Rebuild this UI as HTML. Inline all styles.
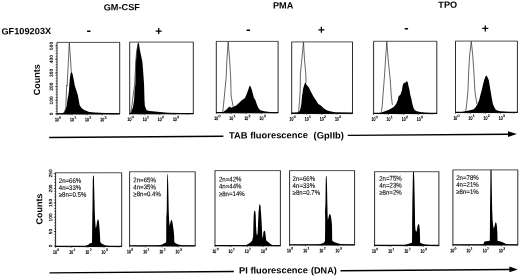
<!DOCTYPE html>
<html><head><meta charset="utf-8"><style>
html,body{margin:0;padding:0;background:#fff;}
body{width:520px;height:276px;overflow:hidden;}
svg{display:block;filter:grayscale(1);font-family:"Liberation Sans", sans-serif;transform:rotate(-0.41deg);transform-origin:260.0px 138.0px;}
</style></head><body>
<svg width="520" height="276" viewBox="0 0 520 276">
<rect x="-10" y="-10" width="540" height="296" fill="#fff"/>
<text x="104.62" y="9.28" font-size="9" font-weight="bold" textLength="36.3" lengthAdjust="spacingAndGlyphs">GM-CSF</text>
<text x="273.83" y="8.7" font-size="9" font-weight="bold" textLength="20.4" lengthAdjust="spacingAndGlyphs">PMA</text>
<text x="439.23" y="9.18" font-size="9" font-weight="bold" textLength="18.9" lengthAdjust="spacingAndGlyphs">TPO</text>
<text x="2.15" y="32.55" font-size="9" font-weight="bold" textLength="49.8" lengthAdjust="spacingAndGlyphs">GF109203X</text>
<line x1="87.87" y1="30.07" x2="91.27" y2="30.09" stroke="#000" stroke-width="1.4"/>
<line x1="247.37" y1="30.21" x2="250.77" y2="30.23" stroke="#000" stroke-width="1.4"/>
<line x1="405.48" y1="29.84" x2="408.88" y2="29.86" stroke="#000" stroke-width="1.4"/>
<line x1="156.47" y1="30.36" x2="162.47" y2="30.4" stroke="#000" stroke-width="1.3"/>
<line x1="159.49" y1="27.38" x2="159.45" y2="33.38" stroke="#000" stroke-width="1.3"/>
<line x1="319.17" y1="30.22" x2="325.17" y2="30.26" stroke="#000" stroke-width="1.3"/>
<line x1="322.19" y1="27.24" x2="322.15" y2="33.24" stroke="#000" stroke-width="1.3"/>
<line x1="483.08" y1="29.99" x2="489.08" y2="30.04" stroke="#000" stroke-width="1.3"/>
<line x1="486.1" y1="27.02" x2="486.06" y2="33.01" stroke="#000" stroke-width="1.3"/>
<text x="40.31" y="93.63" font-size="9" font-weight="bold" textLength="31.0" lengthAdjust="spacingAndGlyphs" transform="rotate(-90 40.31 93.63)">Counts</text>
<text x="41.79" y="222.94" font-size="9" font-weight="bold" textLength="31.0" lengthAdjust="spacingAndGlyphs" transform="rotate(-90 41.79 222.94)">Counts</text>
<polygon points="57.18,112.05 62.18,111.78 64.19,111 65.61,108.61 66.93,104.62 67.68,98.62 68.71,93.63 69.35,88.63 69.68,83.64 70.33,76.64 71.07,72.15 71.48,70.85 72.38,70.86 73.06,72.66 74.22,78.67 75.28,84.68 76.55,88.69 78.11,93.7 78.98,98.7 79.84,103.71 81.72,106.72 84.4,108.74 89.39,110.78 95.19,111.32 105.18,111.79 119.88,112.2 119.87,113.05 57.18,112.6" fill="#000" stroke="none" stroke-width="0"/>
<polyline points="63.68,112.29 64.79,110.1 66.02,106.61 67.08,83.62 67.48,84.62 68.84,61.63 69.99,41.34 71.34,61.65 71.73,70.65" fill="none" stroke="#333" stroke-width="0.75" stroke-linejoin="round"/>
<line x1="57.49" y1="40.95" x2="120.59" y2="41.4" stroke="#333" stroke-width="0.85"/>
<line x1="57.69" y1="40.95" x2="57.18" y2="112.6" stroke="#222" stroke-width="0.95"/>
<line x1="120.39" y1="41.4" x2="119.87" y2="113.05" stroke="#222" stroke-width="0.95"/>
<line x1="56.88" y1="112.45" x2="120.18" y2="112.9" stroke="#000" stroke-width="1.3"/>
<text x="58.93" y="119.81" font-size="5.0" textLength="3.9" lengthAdjust="spacingAndGlyphs" text-anchor="end" stroke="#000" stroke-width="0.25">10</text>
<text x="59.24" y="117.21" font-size="3.6" stroke="#000" stroke-width="0.2">0</text>
<line x1="57.18" y1="112.6" x2="57.17" y2="114" stroke="#222" stroke-width="0.6"/>
<line x1="61.72" y1="112.63" x2="61.72" y2="113.53" stroke="#444" stroke-width="0.5"/>
<line x1="64.38" y1="112.65" x2="64.37" y2="113.55" stroke="#444" stroke-width="0.5"/>
<line x1="66.27" y1="112.66" x2="66.26" y2="113.56" stroke="#444" stroke-width="0.5"/>
<line x1="67.73" y1="112.67" x2="67.72" y2="113.57" stroke="#444" stroke-width="0.5"/>
<line x1="68.93" y1="112.68" x2="68.92" y2="113.58" stroke="#444" stroke-width="0.5"/>
<line x1="69.94" y1="112.69" x2="69.93" y2="113.59" stroke="#444" stroke-width="0.5"/>
<line x1="70.81" y1="112.7" x2="70.81" y2="113.6" stroke="#444" stroke-width="0.5"/>
<line x1="71.59" y1="112.7" x2="71.58" y2="113.6" stroke="#444" stroke-width="0.5"/>
<text x="74.02" y="119.92" font-size="5.0" textLength="3.9" lengthAdjust="spacingAndGlyphs" text-anchor="end" stroke="#000" stroke-width="0.25">10</text>
<text x="74.34" y="117.32" font-size="3.6" stroke="#000" stroke-width="0.2">1</text>
<line x1="72.28" y1="112.71" x2="72.27" y2="114.11" stroke="#222" stroke-width="0.6"/>
<line x1="76.82" y1="112.74" x2="76.82" y2="113.64" stroke="#444" stroke-width="0.5"/>
<line x1="79.48" y1="112.76" x2="79.47" y2="113.66" stroke="#444" stroke-width="0.5"/>
<line x1="81.37" y1="112.77" x2="81.36" y2="113.67" stroke="#444" stroke-width="0.5"/>
<line x1="82.83" y1="112.78" x2="82.82" y2="113.68" stroke="#444" stroke-width="0.5"/>
<line x1="84.03" y1="112.79" x2="84.02" y2="113.69" stroke="#444" stroke-width="0.5"/>
<line x1="85.04" y1="112.8" x2="85.03" y2="113.7" stroke="#444" stroke-width="0.5"/>
<line x1="85.91" y1="112.8" x2="85.91" y2="113.7" stroke="#444" stroke-width="0.5"/>
<line x1="86.68" y1="112.81" x2="86.68" y2="113.71" stroke="#444" stroke-width="0.5"/>
<text x="89.12" y="120.03" font-size="5.0" textLength="3.9" lengthAdjust="spacingAndGlyphs" text-anchor="end" stroke="#000" stroke-width="0.25">10</text>
<text x="89.44" y="117.43" font-size="3.6" stroke="#000" stroke-width="0.2">2</text>
<line x1="87.38" y1="112.81" x2="87.37" y2="114.21" stroke="#222" stroke-width="0.6"/>
<line x1="91.92" y1="112.85" x2="91.91" y2="113.75" stroke="#444" stroke-width="0.5"/>
<line x1="94.58" y1="112.87" x2="94.57" y2="113.77" stroke="#444" stroke-width="0.5"/>
<line x1="96.47" y1="112.88" x2="96.46" y2="113.78" stroke="#444" stroke-width="0.5"/>
<line x1="97.93" y1="112.89" x2="97.92" y2="113.79" stroke="#444" stroke-width="0.5"/>
<line x1="99.13" y1="112.9" x2="99.12" y2="113.8" stroke="#444" stroke-width="0.5"/>
<line x1="100.14" y1="112.91" x2="100.13" y2="113.81" stroke="#444" stroke-width="0.5"/>
<line x1="101.01" y1="112.91" x2="101.01" y2="113.81" stroke="#444" stroke-width="0.5"/>
<line x1="101.78" y1="112.92" x2="101.78" y2="113.82" stroke="#444" stroke-width="0.5"/>
<text x="104.22" y="120.13" font-size="5.0" textLength="3.9" lengthAdjust="spacingAndGlyphs" text-anchor="end" stroke="#000" stroke-width="0.25">10</text>
<text x="104.54" y="117.54" font-size="3.6" stroke="#000" stroke-width="0.2">3</text>
<line x1="102.48" y1="112.92" x2="102.47" y2="114.32" stroke="#222" stroke-width="0.6"/>
<line x1="107.02" y1="112.95" x2="107.01" y2="113.85" stroke="#444" stroke-width="0.5"/>
<line x1="109.68" y1="112.97" x2="109.67" y2="113.87" stroke="#444" stroke-width="0.5"/>
<line x1="111.57" y1="112.99" x2="111.56" y2="113.89" stroke="#444" stroke-width="0.5"/>
<line x1="113.03" y1="113" x2="113.02" y2="113.9" stroke="#444" stroke-width="0.5"/>
<line x1="114.23" y1="113.01" x2="114.22" y2="113.91" stroke="#444" stroke-width="0.5"/>
<line x1="115.24" y1="113.01" x2="115.23" y2="113.91" stroke="#444" stroke-width="0.5"/>
<line x1="116.11" y1="113.02" x2="116.11" y2="113.92" stroke="#444" stroke-width="0.5"/>
<line x1="116.88" y1="113.03" x2="116.88" y2="113.93" stroke="#444" stroke-width="0.5"/>
<polygon points="129.88,112.45 131.18,112.03 131.8,109.26 133.02,107.14 133.54,104.09 134.38,99.1 134.95,89.1 135.68,84.11 136.3,61.11 136.78,57.12 137.43,49.12 138.48,43.13 139.09,41.73 139.68,43.14 140.53,49.14 142.18,57.15 142.95,61.16 143.68,71.17 144.48,84.17 144.77,99.17 145.13,105.18 145.97,107.23 146.8,109.37 150.2,110.14 160.19,111.28 168.18,112.08 193.48,112.8 193.48,113.22 129.88,112.77" fill="#000" stroke="none" stroke-width="0"/>
<polyline points="130.48,112.67 131.19,110.32 132.24,104.08 133.51,94.09 134.98,84.1 136.46,59.11 137.22,51.12 138.99,41.53" fill="none" stroke="#333" stroke-width="0.75" stroke-linejoin="round"/>
<line x1="130.19" y1="41.17" x2="194.19" y2="41.63" stroke="#333" stroke-width="0.85"/>
<line x1="130.39" y1="41.17" x2="129.88" y2="112.77" stroke="#222" stroke-width="0.95"/>
<line x1="193.99" y1="41.63" x2="193.48" y2="113.22" stroke="#222" stroke-width="0.95"/>
<line x1="129.58" y1="112.62" x2="193.78" y2="113.08" stroke="#000" stroke-width="1.3"/>
<text x="131.63" y="119.98" font-size="5.0" textLength="3.9" lengthAdjust="spacingAndGlyphs" text-anchor="end" stroke="#000" stroke-width="0.25">10</text>
<text x="131.94" y="117.38" font-size="3.6" stroke="#000" stroke-width="0.2">0</text>
<line x1="129.88" y1="112.77" x2="129.87" y2="114.17" stroke="#222" stroke-width="0.6"/>
<line x1="134.42" y1="112.8" x2="134.42" y2="113.7" stroke="#444" stroke-width="0.5"/>
<line x1="137.08" y1="112.82" x2="137.08" y2="113.72" stroke="#444" stroke-width="0.5"/>
<line x1="138.97" y1="112.83" x2="138.96" y2="113.73" stroke="#444" stroke-width="0.5"/>
<line x1="140.43" y1="112.84" x2="140.42" y2="113.74" stroke="#444" stroke-width="0.5"/>
<line x1="141.63" y1="112.85" x2="141.62" y2="113.75" stroke="#444" stroke-width="0.5"/>
<line x1="142.64" y1="112.86" x2="142.63" y2="113.76" stroke="#444" stroke-width="0.5"/>
<line x1="143.51" y1="112.87" x2="143.51" y2="113.77" stroke="#444" stroke-width="0.5"/>
<line x1="144.29" y1="112.87" x2="144.28" y2="113.77" stroke="#444" stroke-width="0.5"/>
<text x="146.73" y="120.09" font-size="5.0" textLength="3.9" lengthAdjust="spacingAndGlyphs" text-anchor="end" stroke="#000" stroke-width="0.25">10</text>
<text x="147.04" y="117.49" font-size="3.6" stroke="#000" stroke-width="0.2">1</text>
<line x1="144.98" y1="112.88" x2="144.97" y2="114.28" stroke="#222" stroke-width="0.6"/>
<line x1="149.52" y1="112.91" x2="149.52" y2="113.81" stroke="#444" stroke-width="0.5"/>
<line x1="152.18" y1="112.93" x2="152.17" y2="113.83" stroke="#444" stroke-width="0.5"/>
<line x1="154.07" y1="112.94" x2="154.06" y2="113.84" stroke="#444" stroke-width="0.5"/>
<line x1="155.53" y1="112.95" x2="155.52" y2="113.85" stroke="#444" stroke-width="0.5"/>
<line x1="156.73" y1="112.96" x2="156.72" y2="113.86" stroke="#444" stroke-width="0.5"/>
<line x1="157.74" y1="112.97" x2="157.73" y2="113.87" stroke="#444" stroke-width="0.5"/>
<line x1="158.61" y1="112.97" x2="158.61" y2="113.87" stroke="#444" stroke-width="0.5"/>
<line x1="159.39" y1="112.98" x2="159.38" y2="113.88" stroke="#444" stroke-width="0.5"/>
<text x="161.82" y="120.2" font-size="5.0" textLength="3.9" lengthAdjust="spacingAndGlyphs" text-anchor="end" stroke="#000" stroke-width="0.25">10</text>
<text x="162.14" y="117.6" font-size="3.6" stroke="#000" stroke-width="0.2">2</text>
<line x1="160.08" y1="112.98" x2="160.07" y2="114.38" stroke="#222" stroke-width="0.6"/>
<line x1="164.62" y1="113.02" x2="164.62" y2="113.92" stroke="#444" stroke-width="0.5"/>
<line x1="167.28" y1="113.04" x2="167.27" y2="113.94" stroke="#444" stroke-width="0.5"/>
<line x1="169.17" y1="113.05" x2="169.16" y2="113.95" stroke="#444" stroke-width="0.5"/>
<line x1="170.63" y1="113.06" x2="170.62" y2="113.96" stroke="#444" stroke-width="0.5"/>
<line x1="171.83" y1="113.07" x2="171.82" y2="113.97" stroke="#444" stroke-width="0.5"/>
<line x1="172.84" y1="113.08" x2="172.83" y2="113.98" stroke="#444" stroke-width="0.5"/>
<line x1="173.71" y1="113.08" x2="173.71" y2="113.98" stroke="#444" stroke-width="0.5"/>
<line x1="174.49" y1="113.09" x2="174.48" y2="113.99" stroke="#444" stroke-width="0.5"/>
<text x="176.92" y="120.31" font-size="5.0" textLength="3.9" lengthAdjust="spacingAndGlyphs" text-anchor="end" stroke="#000" stroke-width="0.25">10</text>
<text x="177.24" y="117.71" font-size="3.6" stroke="#000" stroke-width="0.2">3</text>
<line x1="175.18" y1="113.09" x2="175.17" y2="114.49" stroke="#222" stroke-width="0.6"/>
<line x1="179.72" y1="113.12" x2="179.72" y2="114.02" stroke="#444" stroke-width="0.5"/>
<line x1="182.38" y1="113.14" x2="182.37" y2="114.04" stroke="#444" stroke-width="0.5"/>
<line x1="184.27" y1="113.16" x2="184.26" y2="114.06" stroke="#444" stroke-width="0.5"/>
<line x1="185.73" y1="113.17" x2="185.72" y2="114.07" stroke="#444" stroke-width="0.5"/>
<line x1="186.93" y1="113.18" x2="186.92" y2="114.08" stroke="#444" stroke-width="0.5"/>
<line x1="187.94" y1="113.18" x2="187.93" y2="114.08" stroke="#444" stroke-width="0.5"/>
<line x1="188.81" y1="113.19" x2="188.81" y2="114.09" stroke="#444" stroke-width="0.5"/>
<line x1="189.58" y1="113.2" x2="189.58" y2="114.1" stroke="#444" stroke-width="0.5"/>
<polygon points="216.48,112.07 222.19,112 223.39,111.69 226.7,109.26 229.63,106.19 231.32,107.59 233.82,106.65 236.74,105.03 239.25,102.95 241.77,100.47 243.48,99.18 245.08,98.19 246.4,95.4 248.54,89.92 249.67,86.42 250.17,85.63 250.97,86.43 252.24,89.94 253.51,94.95 254.29,97.96 255.67,99.97 256.94,103.98 258.51,108.1 260.6,110.25 264.39,111.34 270.19,112.13 278.28,112.51 278.28,112.83 216.48,112.39" fill="#000" stroke="none" stroke-width="0"/>
<polyline points="222.48,112.32 222.94,111.9 224.7,95.75 226.53,77.76 227.46,59.77 228.89,41.47 230.16,59.78 231.13,77.79 231.4,95.79 233.42,106.64" fill="none" stroke="#333" stroke-width="0.75" stroke-linejoin="round"/>
<line x1="216.79" y1="41.09" x2="278.99" y2="41.53" stroke="#333" stroke-width="0.85"/>
<line x1="216.99" y1="41.09" x2="216.48" y2="112.39" stroke="#222" stroke-width="0.95"/>
<line x1="278.79" y1="41.53" x2="278.28" y2="112.83" stroke="#222" stroke-width="0.95"/>
<line x1="216.18" y1="112.24" x2="278.58" y2="112.68" stroke="#000" stroke-width="1.3"/>
<text x="218.23" y="119.6" font-size="5.0" textLength="3.9" lengthAdjust="spacingAndGlyphs" text-anchor="end" stroke="#000" stroke-width="0.25">10</text>
<text x="218.55" y="117" font-size="3.6" stroke="#000" stroke-width="0.2">0</text>
<line x1="216.48" y1="112.39" x2="216.47" y2="113.79" stroke="#222" stroke-width="0.6"/>
<line x1="221.03" y1="112.42" x2="221.02" y2="113.32" stroke="#444" stroke-width="0.5"/>
<line x1="223.69" y1="112.44" x2="223.68" y2="113.34" stroke="#444" stroke-width="0.5"/>
<line x1="225.57" y1="112.45" x2="225.57" y2="113.35" stroke="#444" stroke-width="0.5"/>
<line x1="227.04" y1="112.46" x2="227.03" y2="113.36" stroke="#444" stroke-width="0.5"/>
<line x1="228.23" y1="112.47" x2="228.23" y2="113.37" stroke="#444" stroke-width="0.5"/>
<line x1="229.24" y1="112.48" x2="229.24" y2="113.38" stroke="#444" stroke-width="0.5"/>
<line x1="230.12" y1="112.49" x2="230.11" y2="113.39" stroke="#444" stroke-width="0.5"/>
<line x1="230.89" y1="112.49" x2="230.88" y2="113.39" stroke="#444" stroke-width="0.5"/>
<text x="233.33" y="119.71" font-size="5.0" textLength="3.9" lengthAdjust="spacingAndGlyphs" text-anchor="end" stroke="#000" stroke-width="0.25">10</text>
<text x="233.65" y="117.11" font-size="3.6" stroke="#000" stroke-width="0.2">1</text>
<line x1="231.58" y1="112.5" x2="231.57" y2="113.9" stroke="#222" stroke-width="0.6"/>
<line x1="236.13" y1="112.53" x2="236.12" y2="113.43" stroke="#444" stroke-width="0.5"/>
<line x1="238.79" y1="112.55" x2="238.78" y2="113.45" stroke="#444" stroke-width="0.5"/>
<line x1="240.67" y1="112.56" x2="240.67" y2="113.46" stroke="#444" stroke-width="0.5"/>
<line x1="242.14" y1="112.57" x2="242.13" y2="113.47" stroke="#444" stroke-width="0.5"/>
<line x1="243.33" y1="112.58" x2="243.33" y2="113.48" stroke="#444" stroke-width="0.5"/>
<line x1="244.34" y1="112.59" x2="244.34" y2="113.49" stroke="#444" stroke-width="0.5"/>
<line x1="245.22" y1="112.59" x2="245.21" y2="113.49" stroke="#444" stroke-width="0.5"/>
<line x1="245.99" y1="112.6" x2="245.98" y2="113.5" stroke="#444" stroke-width="0.5"/>
<text x="248.43" y="119.82" font-size="5.0" textLength="3.9" lengthAdjust="spacingAndGlyphs" text-anchor="end" stroke="#000" stroke-width="0.25">10</text>
<text x="248.75" y="117.22" font-size="3.6" stroke="#000" stroke-width="0.2">2</text>
<line x1="246.68" y1="112.6" x2="246.67" y2="114" stroke="#222" stroke-width="0.6"/>
<line x1="251.23" y1="112.64" x2="251.22" y2="113.54" stroke="#444" stroke-width="0.5"/>
<line x1="253.89" y1="112.66" x2="253.88" y2="113.56" stroke="#444" stroke-width="0.5"/>
<line x1="255.77" y1="112.67" x2="255.77" y2="113.57" stroke="#444" stroke-width="0.5"/>
<line x1="257.24" y1="112.68" x2="257.23" y2="113.58" stroke="#444" stroke-width="0.5"/>
<line x1="258.43" y1="112.69" x2="258.42" y2="113.59" stroke="#444" stroke-width="0.5"/>
<line x1="259.44" y1="112.7" x2="259.44" y2="113.6" stroke="#444" stroke-width="0.5"/>
<line x1="260.32" y1="112.7" x2="260.31" y2="113.6" stroke="#444" stroke-width="0.5"/>
<line x1="261.09" y1="112.71" x2="261.08" y2="113.61" stroke="#444" stroke-width="0.5"/>
<text x="263.53" y="119.92" font-size="5.0" textLength="3.9" lengthAdjust="spacingAndGlyphs" text-anchor="end" stroke="#000" stroke-width="0.25">10</text>
<text x="263.85" y="117.33" font-size="3.6" stroke="#000" stroke-width="0.2">3</text>
<line x1="261.78" y1="112.71" x2="261.77" y2="114.11" stroke="#222" stroke-width="0.6"/>
<line x1="266.33" y1="112.74" x2="266.32" y2="113.64" stroke="#444" stroke-width="0.5"/>
<line x1="268.99" y1="112.76" x2="268.98" y2="113.66" stroke="#444" stroke-width="0.5"/>
<line x1="270.87" y1="112.78" x2="270.87" y2="113.68" stroke="#444" stroke-width="0.5"/>
<line x1="272.34" y1="112.79" x2="272.33" y2="113.69" stroke="#444" stroke-width="0.5"/>
<line x1="273.53" y1="112.8" x2="273.52" y2="113.7" stroke="#444" stroke-width="0.5"/>
<line x1="274.54" y1="112.8" x2="274.54" y2="113.7" stroke="#444" stroke-width="0.5"/>
<line x1="275.42" y1="112.81" x2="275.41" y2="113.71" stroke="#444" stroke-width="0.5"/>
<line x1="276.19" y1="112.82" x2="276.18" y2="113.72" stroke="#444" stroke-width="0.5"/>
<polygon points="291.88,113.31 297.18,113.13 299.19,111.97 300.2,110.49 301.02,107.29 301.54,104.3 301.97,100.3 302.41,95.3 302.81,94.31 303.24,90.31 303.66,88.31 304.58,85.32 305.39,83.12 305.8,82.63 306.29,83.33 307.08,85.34 309.56,88.35 310.34,90.36 312.41,94.37 314.04,97.39 316.07,100.4 318.54,104.42 321.03,105.94 323.51,108.52 326.9,110.68 330.19,111.77 336.18,113.09 352.68,113.74 352.67,114.06 291.88,113.63" fill="#000" stroke="none" stroke-width="0"/>
<polyline points="298.38,113.57 298.95,110.48 299.87,100.28 300.54,90.29 300.86,74.29 302.31,60.3 304.18,42.51 305.06,60.32 306.26,74.33 306.4,82.83" fill="none" stroke="#333" stroke-width="0.75" stroke-linejoin="round"/>
<line x1="292.19" y1="42.13" x2="353.39" y2="42.57" stroke="#333" stroke-width="0.85"/>
<line x1="292.39" y1="42.13" x2="291.88" y2="113.63" stroke="#222" stroke-width="0.95"/>
<line x1="353.19" y1="42.56" x2="352.67" y2="114.06" stroke="#222" stroke-width="0.95"/>
<line x1="291.58" y1="113.48" x2="352.97" y2="113.91" stroke="#000" stroke-width="1.3"/>
<text x="293.62" y="120.84" font-size="5.0" textLength="3.9" lengthAdjust="spacingAndGlyphs" text-anchor="end" stroke="#000" stroke-width="0.25">10</text>
<text x="293.94" y="118.24" font-size="3.6" stroke="#000" stroke-width="0.2">0</text>
<line x1="291.88" y1="113.63" x2="291.87" y2="115.03" stroke="#222" stroke-width="0.6"/>
<line x1="296.42" y1="113.66" x2="296.41" y2="114.56" stroke="#444" stroke-width="0.5"/>
<line x1="299.08" y1="113.68" x2="299.07" y2="114.58" stroke="#444" stroke-width="0.5"/>
<line x1="300.97" y1="113.69" x2="300.96" y2="114.59" stroke="#444" stroke-width="0.5"/>
<line x1="302.43" y1="113.7" x2="302.42" y2="114.6" stroke="#444" stroke-width="0.5"/>
<line x1="303.63" y1="113.71" x2="303.62" y2="114.61" stroke="#444" stroke-width="0.5"/>
<line x1="304.64" y1="113.72" x2="304.63" y2="114.62" stroke="#444" stroke-width="0.5"/>
<line x1="305.51" y1="113.73" x2="305.51" y2="114.63" stroke="#444" stroke-width="0.5"/>
<line x1="306.28" y1="113.73" x2="306.28" y2="114.63" stroke="#444" stroke-width="0.5"/>
<text x="308.72" y="120.95" font-size="5.0" textLength="3.9" lengthAdjust="spacingAndGlyphs" text-anchor="end" stroke="#000" stroke-width="0.25">10</text>
<text x="309.04" y="118.35" font-size="3.6" stroke="#000" stroke-width="0.2">1</text>
<line x1="306.97" y1="113.74" x2="306.96" y2="115.14" stroke="#222" stroke-width="0.6"/>
<line x1="311.52" y1="113.77" x2="311.51" y2="114.67" stroke="#444" stroke-width="0.5"/>
<line x1="314.18" y1="113.79" x2="314.17" y2="114.69" stroke="#444" stroke-width="0.5"/>
<line x1="316.07" y1="113.8" x2="316.06" y2="114.7" stroke="#444" stroke-width="0.5"/>
<line x1="317.53" y1="113.81" x2="317.52" y2="114.71" stroke="#444" stroke-width="0.5"/>
<line x1="318.72" y1="113.82" x2="318.72" y2="114.72" stroke="#444" stroke-width="0.5"/>
<line x1="319.74" y1="113.83" x2="319.73" y2="114.73" stroke="#444" stroke-width="0.5"/>
<line x1="320.61" y1="113.83" x2="320.6" y2="114.73" stroke="#444" stroke-width="0.5"/>
<line x1="321.38" y1="113.84" x2="321.38" y2="114.74" stroke="#444" stroke-width="0.5"/>
<text x="323.82" y="121.06" font-size="5.0" textLength="3.9" lengthAdjust="spacingAndGlyphs" text-anchor="end" stroke="#000" stroke-width="0.25">10</text>
<text x="324.14" y="118.46" font-size="3.6" stroke="#000" stroke-width="0.2">2</text>
<line x1="322.07" y1="113.84" x2="322.06" y2="115.24" stroke="#222" stroke-width="0.6"/>
<line x1="326.62" y1="113.88" x2="326.61" y2="114.78" stroke="#444" stroke-width="0.5"/>
<line x1="329.28" y1="113.9" x2="329.27" y2="114.8" stroke="#444" stroke-width="0.5"/>
<line x1="331.17" y1="113.91" x2="331.16" y2="114.81" stroke="#444" stroke-width="0.5"/>
<line x1="332.63" y1="113.92" x2="332.62" y2="114.82" stroke="#444" stroke-width="0.5"/>
<line x1="333.82" y1="113.93" x2="333.82" y2="114.83" stroke="#444" stroke-width="0.5"/>
<line x1="334.84" y1="113.93" x2="334.83" y2="114.83" stroke="#444" stroke-width="0.5"/>
<line x1="335.71" y1="113.94" x2="335.7" y2="114.84" stroke="#444" stroke-width="0.5"/>
<line x1="336.48" y1="113.95" x2="336.48" y2="114.85" stroke="#444" stroke-width="0.5"/>
<text x="338.92" y="121.16" font-size="5.0" textLength="3.9" lengthAdjust="spacingAndGlyphs" text-anchor="end" stroke="#000" stroke-width="0.25">10</text>
<text x="339.24" y="118.57" font-size="3.6" stroke="#000" stroke-width="0.2">3</text>
<line x1="337.17" y1="113.95" x2="337.16" y2="115.35" stroke="#222" stroke-width="0.6"/>
<line x1="341.72" y1="113.98" x2="341.71" y2="114.88" stroke="#444" stroke-width="0.5"/>
<line x1="344.38" y1="114" x2="344.37" y2="114.9" stroke="#444" stroke-width="0.5"/>
<line x1="346.26" y1="114.02" x2="346.26" y2="114.92" stroke="#444" stroke-width="0.5"/>
<line x1="347.73" y1="114.03" x2="347.72" y2="114.93" stroke="#444" stroke-width="0.5"/>
<line x1="348.92" y1="114.04" x2="348.92" y2="114.94" stroke="#444" stroke-width="0.5"/>
<line x1="349.93" y1="114.04" x2="349.93" y2="114.94" stroke="#444" stroke-width="0.5"/>
<line x1="350.81" y1="114.05" x2="350.8" y2="114.95" stroke="#444" stroke-width="0.5"/>
<line x1="351.58" y1="114.05" x2="351.58" y2="114.95" stroke="#444" stroke-width="0.5"/>
<polygon points="373.77,114.07 380.18,113.89 382.18,113 386.39,111.67 389.7,110.45 393.92,107.98 396.44,104.98 398.07,100.99 399,96.99 400.6,96.01 402.34,91.02 403.18,86.02 404.09,84.13 405.89,83.54 407.4,82.05 408.39,84.06 408.63,86.06 409.84,91.07 410.6,96.08 411.68,100.08 411.87,101.09 412.64,105.09 413.47,108.12 414.3,110.4 416.19,112 420.18,113.05 426.18,113.88 436.97,114.53 436.97,114.87 373.77,114.41" fill="#000" stroke="none" stroke-width="0"/>
<polyline points="380.97,114.24 381.59,112.43 382.53,105.88 383.3,95.88 384.18,85.89 384.94,76.89 386.05,60.9 387.49,42.51 388.75,60.92 390.34,76.93 390.98,85.94 391.5,95.94 392.63,105.95" fill="none" stroke="#333" stroke-width="0.75" stroke-linejoin="round"/>
<line x1="374.09" y1="42.11" x2="437.69" y2="42.57" stroke="#333" stroke-width="0.85"/>
<line x1="374.29" y1="42.12" x2="373.77" y2="114.41" stroke="#222" stroke-width="0.95"/>
<line x1="437.49" y1="42.57" x2="436.97" y2="114.87" stroke="#222" stroke-width="0.95"/>
<line x1="373.47" y1="114.26" x2="437.27" y2="114.72" stroke="#000" stroke-width="1.3"/>
<text x="375.52" y="121.63" font-size="5.0" textLength="3.9" lengthAdjust="spacingAndGlyphs" text-anchor="end" stroke="#000" stroke-width="0.25">10</text>
<text x="375.84" y="119.03" font-size="3.6" stroke="#000" stroke-width="0.2">0</text>
<line x1="373.77" y1="114.41" x2="373.76" y2="115.81" stroke="#222" stroke-width="0.6"/>
<line x1="378.32" y1="114.45" x2="378.31" y2="115.35" stroke="#444" stroke-width="0.5"/>
<line x1="380.98" y1="114.47" x2="380.97" y2="115.37" stroke="#444" stroke-width="0.5"/>
<line x1="382.86" y1="114.48" x2="382.86" y2="115.38" stroke="#444" stroke-width="0.5"/>
<line x1="384.33" y1="114.49" x2="384.32" y2="115.39" stroke="#444" stroke-width="0.5"/>
<line x1="385.52" y1="114.5" x2="385.52" y2="115.4" stroke="#444" stroke-width="0.5"/>
<line x1="386.53" y1="114.5" x2="386.53" y2="115.4" stroke="#444" stroke-width="0.5"/>
<line x1="387.41" y1="114.51" x2="387.4" y2="115.41" stroke="#444" stroke-width="0.5"/>
<line x1="388.18" y1="114.52" x2="388.17" y2="115.42" stroke="#444" stroke-width="0.5"/>
<text x="390.62" y="121.73" font-size="5.0" textLength="3.9" lengthAdjust="spacingAndGlyphs" text-anchor="end" stroke="#000" stroke-width="0.25">10</text>
<text x="390.94" y="119.14" font-size="3.6" stroke="#000" stroke-width="0.2">1</text>
<line x1="388.87" y1="114.52" x2="388.86" y2="115.92" stroke="#222" stroke-width="0.6"/>
<line x1="393.42" y1="114.55" x2="393.41" y2="115.45" stroke="#444" stroke-width="0.5"/>
<line x1="396.08" y1="114.57" x2="396.07" y2="115.47" stroke="#444" stroke-width="0.5"/>
<line x1="397.96" y1="114.59" x2="397.96" y2="115.49" stroke="#444" stroke-width="0.5"/>
<line x1="399.43" y1="114.6" x2="399.42" y2="115.5" stroke="#444" stroke-width="0.5"/>
<line x1="400.62" y1="114.61" x2="400.61" y2="115.51" stroke="#444" stroke-width="0.5"/>
<line x1="401.63" y1="114.61" x2="401.63" y2="115.51" stroke="#444" stroke-width="0.5"/>
<line x1="402.51" y1="114.62" x2="402.5" y2="115.52" stroke="#444" stroke-width="0.5"/>
<line x1="403.28" y1="114.62" x2="403.27" y2="115.52" stroke="#444" stroke-width="0.5"/>
<text x="405.72" y="121.84" font-size="5.0" textLength="3.9" lengthAdjust="spacingAndGlyphs" text-anchor="end" stroke="#000" stroke-width="0.25">10</text>
<text x="406.04" y="119.24" font-size="3.6" stroke="#000" stroke-width="0.2">2</text>
<line x1="403.97" y1="114.63" x2="403.96" y2="116.03" stroke="#222" stroke-width="0.6"/>
<line x1="408.52" y1="114.66" x2="408.51" y2="115.56" stroke="#444" stroke-width="0.5"/>
<line x1="411.18" y1="114.68" x2="411.17" y2="115.58" stroke="#444" stroke-width="0.5"/>
<line x1="413.06" y1="114.69" x2="413.06" y2="115.59" stroke="#444" stroke-width="0.5"/>
<line x1="414.53" y1="114.71" x2="414.52" y2="115.61" stroke="#444" stroke-width="0.5"/>
<line x1="415.72" y1="114.71" x2="415.71" y2="115.61" stroke="#444" stroke-width="0.5"/>
<line x1="416.73" y1="114.72" x2="416.73" y2="115.62" stroke="#444" stroke-width="0.5"/>
<line x1="417.61" y1="114.73" x2="417.6" y2="115.63" stroke="#444" stroke-width="0.5"/>
<line x1="418.38" y1="114.73" x2="418.37" y2="115.63" stroke="#444" stroke-width="0.5"/>
<text x="420.82" y="121.95" font-size="5.0" textLength="3.9" lengthAdjust="spacingAndGlyphs" text-anchor="end" stroke="#000" stroke-width="0.25">10</text>
<text x="421.14" y="119.35" font-size="3.6" stroke="#000" stroke-width="0.2">3</text>
<line x1="419.07" y1="114.74" x2="419.06" y2="116.14" stroke="#222" stroke-width="0.6"/>
<line x1="423.62" y1="114.77" x2="423.61" y2="115.67" stroke="#444" stroke-width="0.5"/>
<line x1="426.27" y1="114.79" x2="426.27" y2="115.69" stroke="#444" stroke-width="0.5"/>
<line x1="428.16" y1="114.8" x2="428.15" y2="115.7" stroke="#444" stroke-width="0.5"/>
<line x1="429.62" y1="114.81" x2="429.62" y2="115.71" stroke="#444" stroke-width="0.5"/>
<line x1="430.82" y1="114.82" x2="430.81" y2="115.72" stroke="#444" stroke-width="0.5"/>
<line x1="431.83" y1="114.83" x2="431.82" y2="115.73" stroke="#444" stroke-width="0.5"/>
<line x1="432.71" y1="114.84" x2="432.7" y2="115.74" stroke="#444" stroke-width="0.5"/>
<line x1="433.48" y1="114.84" x2="433.47" y2="115.74" stroke="#444" stroke-width="0.5"/>
<polygon points="455.68,113.58 462.18,113.42 465.19,112.81 470.19,111.69 473.95,110.67 476.02,108.59 477.74,105.56 479.47,101.57 480.7,96.58 481.57,93.58 482.14,91.59 483.27,86.6 484.61,81.61 485.93,78.12 486.69,77.02 487.63,78.13 489.16,81.64 489.97,86.64 490.74,91.65 491.12,93.65 491.55,96.66 492.37,101.66 493.14,105.67 494.42,108.72 495.6,110.83 496.89,111.88 500.19,112.96 506.18,113.63 517.58,114.03 517.58,114.34 455.68,113.9" fill="#000" stroke="none" stroke-width="0"/>
<polyline points="465.18,113.76 465.69,112.71 466.46,109.57 468.22,93.49 469.23,71.5 470.29,56.5 471.99,42.91 473.29,56.52 474.23,71.53 475.32,93.54 476.52,101.55 477.24,105.55" fill="none" stroke="#333" stroke-width="0.75" stroke-linejoin="round"/>
<line x1="455.99" y1="42.5" x2="518.29" y2="42.95" stroke="#333" stroke-width="0.85"/>
<line x1="456.19" y1="42.5" x2="455.68" y2="113.9" stroke="#222" stroke-width="0.95"/>
<line x1="518.09" y1="42.94" x2="517.58" y2="114.34" stroke="#222" stroke-width="0.95"/>
<line x1="455.38" y1="113.75" x2="517.88" y2="114.19" stroke="#000" stroke-width="1.3"/>
<text x="457.43" y="121.11" font-size="5.0" textLength="3.9" lengthAdjust="spacingAndGlyphs" text-anchor="end" stroke="#000" stroke-width="0.25">10</text>
<text x="457.74" y="118.51" font-size="3.6" stroke="#000" stroke-width="0.2">0</text>
<line x1="455.68" y1="113.9" x2="455.67" y2="115.3" stroke="#222" stroke-width="0.6"/>
<line x1="460.22" y1="113.93" x2="460.22" y2="114.83" stroke="#444" stroke-width="0.5"/>
<line x1="462.88" y1="113.95" x2="462.88" y2="114.85" stroke="#444" stroke-width="0.5"/>
<line x1="464.77" y1="113.96" x2="464.76" y2="114.86" stroke="#444" stroke-width="0.5"/>
<line x1="466.23" y1="113.98" x2="466.23" y2="114.88" stroke="#444" stroke-width="0.5"/>
<line x1="467.43" y1="113.98" x2="467.42" y2="114.88" stroke="#444" stroke-width="0.5"/>
<line x1="468.44" y1="113.99" x2="468.43" y2="114.89" stroke="#444" stroke-width="0.5"/>
<line x1="469.31" y1="114" x2="469.31" y2="114.9" stroke="#444" stroke-width="0.5"/>
<line x1="470.09" y1="114" x2="470.08" y2="114.9" stroke="#444" stroke-width="0.5"/>
<text x="472.53" y="121.22" font-size="5.0" textLength="3.9" lengthAdjust="spacingAndGlyphs" text-anchor="end" stroke="#000" stroke-width="0.25">10</text>
<text x="472.84" y="118.62" font-size="3.6" stroke="#000" stroke-width="0.2">1</text>
<line x1="470.78" y1="114.01" x2="470.77" y2="115.41" stroke="#222" stroke-width="0.6"/>
<line x1="475.32" y1="114.04" x2="475.32" y2="114.94" stroke="#444" stroke-width="0.5"/>
<line x1="477.98" y1="114.06" x2="477.97" y2="114.96" stroke="#444" stroke-width="0.5"/>
<line x1="479.87" y1="114.07" x2="479.86" y2="114.97" stroke="#444" stroke-width="0.5"/>
<line x1="481.33" y1="114.08" x2="481.32" y2="114.98" stroke="#444" stroke-width="0.5"/>
<line x1="482.53" y1="114.09" x2="482.52" y2="114.99" stroke="#444" stroke-width="0.5"/>
<line x1="483.54" y1="114.1" x2="483.53" y2="115" stroke="#444" stroke-width="0.5"/>
<line x1="484.41" y1="114.11" x2="484.41" y2="115.01" stroke="#444" stroke-width="0.5"/>
<line x1="485.19" y1="114.11" x2="485.18" y2="115.01" stroke="#444" stroke-width="0.5"/>
<text x="487.63" y="121.33" font-size="5.0" textLength="3.9" lengthAdjust="spacingAndGlyphs" text-anchor="end" stroke="#000" stroke-width="0.25">10</text>
<text x="487.94" y="118.73" font-size="3.6" stroke="#000" stroke-width="0.2">2</text>
<line x1="485.88" y1="114.12" x2="485.87" y2="115.52" stroke="#222" stroke-width="0.6"/>
<line x1="490.42" y1="114.15" x2="490.42" y2="115.05" stroke="#444" stroke-width="0.5"/>
<line x1="493.08" y1="114.17" x2="493.07" y2="115.07" stroke="#444" stroke-width="0.5"/>
<line x1="494.97" y1="114.18" x2="494.96" y2="115.08" stroke="#444" stroke-width="0.5"/>
<line x1="496.43" y1="114.19" x2="496.42" y2="115.09" stroke="#444" stroke-width="0.5"/>
<line x1="497.63" y1="114.2" x2="497.62" y2="115.1" stroke="#444" stroke-width="0.5"/>
<line x1="498.64" y1="114.21" x2="498.63" y2="115.11" stroke="#444" stroke-width="0.5"/>
<line x1="499.51" y1="114.21" x2="499.51" y2="115.11" stroke="#444" stroke-width="0.5"/>
<line x1="500.29" y1="114.22" x2="500.28" y2="115.12" stroke="#444" stroke-width="0.5"/>
<text x="502.72" y="121.44" font-size="5.0" textLength="3.9" lengthAdjust="spacingAndGlyphs" text-anchor="end" stroke="#000" stroke-width="0.25">10</text>
<text x="503.04" y="118.84" font-size="3.6" stroke="#000" stroke-width="0.2">3</text>
<line x1="500.98" y1="114.22" x2="500.97" y2="115.62" stroke="#222" stroke-width="0.6"/>
<line x1="505.52" y1="114.26" x2="505.52" y2="115.16" stroke="#444" stroke-width="0.5"/>
<line x1="508.18" y1="114.28" x2="508.17" y2="115.18" stroke="#444" stroke-width="0.5"/>
<line x1="510.07" y1="114.29" x2="510.06" y2="115.19" stroke="#444" stroke-width="0.5"/>
<line x1="511.53" y1="114.3" x2="511.52" y2="115.2" stroke="#444" stroke-width="0.5"/>
<line x1="512.73" y1="114.31" x2="512.72" y2="115.21" stroke="#444" stroke-width="0.5"/>
<line x1="513.74" y1="114.32" x2="513.73" y2="115.22" stroke="#444" stroke-width="0.5"/>
<line x1="514.61" y1="114.32" x2="514.61" y2="115.22" stroke="#444" stroke-width="0.5"/>
<line x1="515.39" y1="114.33" x2="515.38" y2="115.23" stroke="#444" stroke-width="0.5"/>
<text x="53.18" y="112.42" font-size="4.9" font-weight="bold" text-anchor="middle" transform="rotate(-90 53.18 112.42)">0</text>
<line x1="55.38" y1="112.44" x2="57.18" y2="112.45" stroke="#222" stroke-width="0.6"/>
<text x="53.28" y="98.82" font-size="4.9" font-weight="bold" text-anchor="middle" transform="rotate(-90 53.28 98.82)">100</text>
<line x1="55.48" y1="98.84" x2="57.27" y2="98.85" stroke="#222" stroke-width="0.6"/>
<text x="53.37" y="85.12" font-size="4.9" font-weight="bold" text-anchor="middle" transform="rotate(-90 53.37 85.12)">200</text>
<line x1="55.57" y1="85.14" x2="57.37" y2="85.15" stroke="#222" stroke-width="0.6"/>
<text x="53.47" y="71.42" font-size="4.9" font-weight="bold" text-anchor="middle" transform="rotate(-90 53.47 71.42)">300</text>
<line x1="55.67" y1="71.44" x2="57.47" y2="71.45" stroke="#222" stroke-width="0.6"/>
<text x="53.57" y="57.72" font-size="4.9" font-weight="bold" text-anchor="middle" transform="rotate(-90 53.57 57.72)">400</text>
<line x1="55.77" y1="57.74" x2="57.57" y2="57.75" stroke="#222" stroke-width="0.6"/>
<text x="53.66" y="44.42" font-size="4.9" font-weight="bold" text-anchor="middle" transform="rotate(-90 53.66 44.42)">500</text>
<line x1="55.86" y1="44.44" x2="57.66" y2="44.45" stroke="#222" stroke-width="0.6"/>
<line x1="55.78" y1="112.44" x2="57.18" y2="112.45" stroke="#111" stroke-width="0.6"/>
<line x1="55.8" y1="109.7" x2="57.2" y2="109.71" stroke="#111" stroke-width="0.6"/>
<line x1="55.82" y1="106.96" x2="57.22" y2="106.97" stroke="#111" stroke-width="0.6"/>
<line x1="55.84" y1="104.22" x2="57.24" y2="104.23" stroke="#111" stroke-width="0.6"/>
<line x1="55.86" y1="101.48" x2="57.26" y2="101.49" stroke="#111" stroke-width="0.6"/>
<line x1="55.88" y1="98.74" x2="57.28" y2="98.75" stroke="#111" stroke-width="0.6"/>
<line x1="55.9" y1="96" x2="57.3" y2="96.01" stroke="#111" stroke-width="0.6"/>
<line x1="55.91" y1="93.26" x2="57.31" y2="93.27" stroke="#111" stroke-width="0.6"/>
<line x1="55.93" y1="90.52" x2="57.33" y2="90.53" stroke="#111" stroke-width="0.6"/>
<line x1="55.95" y1="87.78" x2="57.35" y2="87.79" stroke="#111" stroke-width="0.6"/>
<line x1="55.97" y1="85.04" x2="57.37" y2="85.05" stroke="#111" stroke-width="0.6"/>
<line x1="55.99" y1="82.3" x2="57.39" y2="82.31" stroke="#111" stroke-width="0.6"/>
<line x1="56.01" y1="79.56" x2="57.41" y2="79.57" stroke="#111" stroke-width="0.6"/>
<line x1="56.03" y1="76.82" x2="57.43" y2="76.83" stroke="#111" stroke-width="0.6"/>
<line x1="56.05" y1="74.08" x2="57.45" y2="74.09" stroke="#111" stroke-width="0.6"/>
<line x1="56.07" y1="71.34" x2="57.47" y2="71.35" stroke="#111" stroke-width="0.6"/>
<line x1="56.09" y1="68.6" x2="57.49" y2="68.61" stroke="#111" stroke-width="0.6"/>
<line x1="56.11" y1="65.86" x2="57.51" y2="65.87" stroke="#111" stroke-width="0.6"/>
<line x1="56.13" y1="63.12" x2="57.53" y2="63.13" stroke="#111" stroke-width="0.6"/>
<line x1="56.15" y1="60.38" x2="57.55" y2="60.39" stroke="#111" stroke-width="0.6"/>
<line x1="56.17" y1="57.64" x2="57.57" y2="57.65" stroke="#111" stroke-width="0.6"/>
<line x1="56.19" y1="54.9" x2="57.59" y2="54.91" stroke="#111" stroke-width="0.6"/>
<line x1="56.21" y1="52.16" x2="57.61" y2="52.17" stroke="#111" stroke-width="0.6"/>
<line x1="56.23" y1="49.42" x2="57.63" y2="49.43" stroke="#111" stroke-width="0.6"/>
<line x1="56.25" y1="46.68" x2="57.65" y2="46.69" stroke="#111" stroke-width="0.6"/>
<line x1="56.27" y1="43.94" x2="57.67" y2="43.95" stroke="#111" stroke-width="0.6"/>
<line x1="372.87" y1="114.41" x2="373.77" y2="114.41" stroke="#444" stroke-width="0.5"/>
<line x1="372.89" y1="111.67" x2="373.79" y2="111.67" stroke="#444" stroke-width="0.5"/>
<line x1="372.91" y1="108.93" x2="373.81" y2="108.93" stroke="#444" stroke-width="0.5"/>
<line x1="372.93" y1="106.19" x2="373.83" y2="106.19" stroke="#444" stroke-width="0.5"/>
<line x1="372.95" y1="103.45" x2="373.85" y2="103.45" stroke="#444" stroke-width="0.5"/>
<line x1="372.97" y1="100.71" x2="373.87" y2="100.71" stroke="#444" stroke-width="0.5"/>
<line x1="372.99" y1="97.97" x2="373.89" y2="97.97" stroke="#444" stroke-width="0.5"/>
<line x1="373.01" y1="95.23" x2="373.91" y2="95.23" stroke="#444" stroke-width="0.5"/>
<line x1="373.03" y1="92.49" x2="373.93" y2="92.49" stroke="#444" stroke-width="0.5"/>
<line x1="373.05" y1="89.75" x2="373.95" y2="89.75" stroke="#444" stroke-width="0.5"/>
<line x1="373.07" y1="87.01" x2="373.97" y2="87.01" stroke="#444" stroke-width="0.5"/>
<line x1="373.09" y1="84.27" x2="373.99" y2="84.27" stroke="#444" stroke-width="0.5"/>
<line x1="373.11" y1="81.53" x2="374.01" y2="81.53" stroke="#444" stroke-width="0.5"/>
<line x1="373.13" y1="78.79" x2="374.03" y2="78.79" stroke="#444" stroke-width="0.5"/>
<line x1="373.15" y1="76.05" x2="374.05" y2="76.05" stroke="#444" stroke-width="0.5"/>
<line x1="373.17" y1="73.31" x2="374.07" y2="73.31" stroke="#444" stroke-width="0.5"/>
<line x1="373.19" y1="70.57" x2="374.09" y2="70.57" stroke="#444" stroke-width="0.5"/>
<line x1="373.21" y1="67.83" x2="374.11" y2="67.83" stroke="#444" stroke-width="0.5"/>
<line x1="373.22" y1="65.09" x2="374.12" y2="65.09" stroke="#444" stroke-width="0.5"/>
<line x1="373.24" y1="62.35" x2="374.14" y2="62.35" stroke="#444" stroke-width="0.5"/>
<line x1="373.26" y1="59.61" x2="374.16" y2="59.61" stroke="#444" stroke-width="0.5"/>
<line x1="373.28" y1="56.87" x2="374.18" y2="56.87" stroke="#444" stroke-width="0.5"/>
<line x1="373.3" y1="54.13" x2="374.2" y2="54.14" stroke="#444" stroke-width="0.5"/>
<line x1="373.32" y1="51.39" x2="374.22" y2="51.4" stroke="#444" stroke-width="0.5"/>
<line x1="373.34" y1="48.65" x2="374.24" y2="48.66" stroke="#444" stroke-width="0.5"/>
<line x1="373.36" y1="45.91" x2="374.26" y2="45.92" stroke="#444" stroke-width="0.5"/>
<line x1="49.21" y1="135.99" x2="223.41" y2="135.94" stroke="#000" stroke-width="1.4"/>
<line x1="347.72" y1="136.03" x2="509.02" y2="135.98" stroke="#000" stroke-width="1.4"/>
<polygon points="508.04,132.97 516.82,135.94 508,138.77" fill="#000" stroke="none" stroke-width="0"/>
<text x="229" y="138.38" font-size="9.2" font-weight="bold" textLength="78.9" lengthAdjust="spacingAndGlyphs">TAB fluorescence</text>
<text x="313.59" y="138.98" font-size="9.2" font-weight="bold" textLength="30.3" lengthAdjust="spacingAndGlyphs">(GpIIb)</text>
<line x1="48.54" y1="271.39" x2="232.85" y2="271.31" stroke="#000" stroke-width="1.4"/>
<line x1="339.55" y1="271.37" x2="509.05" y2="271.29" stroke="#000" stroke-width="1.4"/>
<polygon points="508.47,268.38 516.85,271.24 508.43,273.98" fill="#000" stroke="none" stroke-width="0"/>
<text x="238.03" y="273.45" font-size="9.2" font-weight="bold" textLength="68.9" lengthAdjust="spacingAndGlyphs">PI fluorescence</text>
<text x="310.03" y="273.96" font-size="9.2" font-weight="bold" textLength="25.8" lengthAdjust="spacingAndGlyphs">(DNA)</text>
<polygon points="54.83,244.72 84.23,244.73 87.64,243.51 88.75,242.27 91.26,241.46 91.58,223.8 91.87,210.8 92.2,193.8 92.5,178.8 92.83,174.6 93.63,174.61 93.77,183.81 94.06,198.81 94.27,210.82 94.52,218.82 94.97,225.82 95.26,227.02 95.77,224.83 96.61,219.83 97.42,217.94 98.21,219.84 98.63,223.85 99.13,230.85 99.39,236.85 99.56,241 101.25,242.57 104.73,244.46 109.23,245.01 120.93,245.3 120.93,245.51 54.83,245.03" fill="#000" stroke="none" stroke-width="0"/>
<line x1="55.16" y1="171.29" x2="121.65" y2="171.76" stroke="#333" stroke-width="0.85"/>
<line x1="55.36" y1="171.29" x2="54.83" y2="245.03" stroke="#222" stroke-width="0.95"/>
<line x1="121.45" y1="171.76" x2="120.93" y2="245.51" stroke="#222" stroke-width="0.95"/>
<line x1="54.53" y1="244.88" x2="121.23" y2="245.36" stroke="#000" stroke-width="1.3"/>
<text x="58.43" y="181.56" font-size="6.7" textLength="22.56" lengthAdjust="spacingAndGlyphs" stroke="#000" stroke-width="0.1">2n=66%</text>
<text x="58.38" y="188.56" font-size="6.7" textLength="22.56" lengthAdjust="spacingAndGlyphs" stroke="#000" stroke-width="0.1">4n=33%</text>
<text x="58.33" y="195.46" font-size="6.7" textLength="27.6" lengthAdjust="spacingAndGlyphs" stroke="#000" stroke-width="0.1">≥8n=0.5%</text>
<text x="56.08" y="252.24" font-size="5.0" textLength="3.9" lengthAdjust="spacingAndGlyphs" text-anchor="end" stroke="#000" stroke-width="0.25">10</text>
<text x="56.5" y="249.65" font-size="3.4" stroke="#000" stroke-width="0.2">0</text>
<line x1="54.83" y1="245.03" x2="54.82" y2="246.43" stroke="#222" stroke-width="0.6"/>
<line x1="59.71" y1="245.07" x2="59.7" y2="245.97" stroke="#444" stroke-width="0.5"/>
<line x1="62.56" y1="245.09" x2="62.55" y2="245.99" stroke="#444" stroke-width="0.5"/>
<line x1="64.58" y1="245.1" x2="64.58" y2="246" stroke="#444" stroke-width="0.5"/>
<line x1="66.15" y1="245.12" x2="66.15" y2="246.02" stroke="#444" stroke-width="0.5"/>
<line x1="67.43" y1="245.12" x2="67.43" y2="246.02" stroke="#444" stroke-width="0.5"/>
<line x1="68.52" y1="245.13" x2="68.51" y2="246.03" stroke="#444" stroke-width="0.5"/>
<line x1="69.46" y1="245.14" x2="69.45" y2="246.04" stroke="#444" stroke-width="0.5"/>
<line x1="70.29" y1="245.15" x2="70.28" y2="246.05" stroke="#444" stroke-width="0.5"/>
<text x="72.28" y="252.36" font-size="5.0" textLength="3.9" lengthAdjust="spacingAndGlyphs" text-anchor="end" stroke="#000" stroke-width="0.25">10</text>
<text x="72.7" y="249.76" font-size="3.4" stroke="#000" stroke-width="0.2">1</text>
<line x1="71.03" y1="245.15" x2="71.02" y2="246.55" stroke="#222" stroke-width="0.6"/>
<line x1="75.9" y1="245.19" x2="75.9" y2="246.09" stroke="#444" stroke-width="0.5"/>
<line x1="78.76" y1="245.21" x2="78.75" y2="246.11" stroke="#444" stroke-width="0.5"/>
<line x1="80.78" y1="245.22" x2="80.78" y2="246.12" stroke="#444" stroke-width="0.5"/>
<line x1="82.35" y1="245.23" x2="82.34" y2="246.13" stroke="#444" stroke-width="0.5"/>
<line x1="83.63" y1="245.24" x2="83.63" y2="246.14" stroke="#444" stroke-width="0.5"/>
<line x1="84.72" y1="245.25" x2="84.71" y2="246.15" stroke="#444" stroke-width="0.5"/>
<line x1="85.66" y1="245.26" x2="85.65" y2="246.16" stroke="#444" stroke-width="0.5"/>
<line x1="86.49" y1="245.26" x2="86.48" y2="246.16" stroke="#444" stroke-width="0.5"/>
<text x="88.48" y="252.48" font-size="5.0" textLength="3.9" lengthAdjust="spacingAndGlyphs" text-anchor="end" stroke="#000" stroke-width="0.25">10</text>
<text x="88.9" y="249.88" font-size="3.4" stroke="#000" stroke-width="0.2">2</text>
<line x1="87.23" y1="245.27" x2="87.22" y2="246.67" stroke="#222" stroke-width="0.6"/>
<line x1="92.1" y1="245.3" x2="92.1" y2="246.2" stroke="#444" stroke-width="0.5"/>
<line x1="94.96" y1="245.32" x2="94.95" y2="246.22" stroke="#444" stroke-width="0.5"/>
<line x1="96.98" y1="245.34" x2="96.97" y2="246.24" stroke="#444" stroke-width="0.5"/>
<line x1="98.55" y1="245.35" x2="98.54" y2="246.25" stroke="#444" stroke-width="0.5"/>
<line x1="99.83" y1="245.36" x2="99.83" y2="246.26" stroke="#444" stroke-width="0.5"/>
<line x1="100.92" y1="245.36" x2="100.91" y2="246.26" stroke="#444" stroke-width="0.5"/>
<line x1="101.86" y1="245.37" x2="101.85" y2="246.27" stroke="#444" stroke-width="0.5"/>
<line x1="102.69" y1="245.38" x2="102.68" y2="246.28" stroke="#444" stroke-width="0.5"/>
<text x="104.68" y="252.59" font-size="5.0" textLength="3.9" lengthAdjust="spacingAndGlyphs" text-anchor="end" stroke="#000" stroke-width="0.25">10</text>
<text x="105.09" y="249.99" font-size="3.4" stroke="#000" stroke-width="0.2">3</text>
<line x1="103.43" y1="245.38" x2="103.42" y2="246.78" stroke="#222" stroke-width="0.6"/>
<line x1="108.3" y1="245.42" x2="108.3" y2="246.32" stroke="#444" stroke-width="0.5"/>
<line x1="111.16" y1="245.44" x2="111.15" y2="246.34" stroke="#444" stroke-width="0.5"/>
<line x1="113.18" y1="245.45" x2="113.17" y2="246.35" stroke="#444" stroke-width="0.5"/>
<line x1="114.75" y1="245.46" x2="114.74" y2="246.36" stroke="#444" stroke-width="0.5"/>
<line x1="116.03" y1="245.47" x2="116.03" y2="246.37" stroke="#444" stroke-width="0.5"/>
<line x1="117.12" y1="245.48" x2="117.11" y2="246.38" stroke="#444" stroke-width="0.5"/>
<line x1="118.06" y1="245.49" x2="118.05" y2="246.39" stroke="#444" stroke-width="0.5"/>
<line x1="118.89" y1="245.49" x2="118.88" y2="246.39" stroke="#444" stroke-width="0.5"/>
<polygon points="128.83,244.85 157.23,244.85 161.34,243.74 163.25,242.82 165.46,241.69 165.59,229.33 165.73,217.33 166.17,211.33 166.49,194.33 166.8,179.33 167.04,173.54 167.54,173.74 167.87,184.34 168.06,199.34 168.22,211.35 168.52,219.35 168.97,225.15 169.69,222.36 170.41,219.86 170.92,219.16 171.61,220.37 172.09,223.37 172.94,229.38 173.5,235.38 173.56,241.75 175.25,242.9 177.54,243.96 181.23,244.81 194.43,245.32 194.43,245.63 128.83,245.16" fill="#000" stroke="none" stroke-width="0"/>
<line x1="129.16" y1="170.81" x2="195.16" y2="171.29" stroke="#333" stroke-width="0.85"/>
<line x1="129.36" y1="170.82" x2="128.83" y2="245.16" stroke="#222" stroke-width="0.95"/>
<line x1="194.96" y1="171.29" x2="194.43" y2="245.63" stroke="#222" stroke-width="0.95"/>
<line x1="128.53" y1="245.01" x2="194.73" y2="245.49" stroke="#000" stroke-width="1.3"/>
<text x="132.99" y="181.39" font-size="6.7" textLength="22.56" lengthAdjust="spacingAndGlyphs" stroke="#000" stroke-width="0.1">2n=65%</text>
<text x="132.94" y="188.49" font-size="6.7" textLength="22.56" lengthAdjust="spacingAndGlyphs" stroke="#000" stroke-width="0.1">4n=35%</text>
<text x="132.89" y="195.49" font-size="6.7" textLength="27.6" lengthAdjust="spacingAndGlyphs" stroke="#000" stroke-width="0.1">≥8n=0.4%</text>
<text x="130.08" y="252.37" font-size="5.0" textLength="3.9" lengthAdjust="spacingAndGlyphs" text-anchor="end" stroke="#000" stroke-width="0.25">10</text>
<text x="130.5" y="249.78" font-size="3.4" stroke="#000" stroke-width="0.2">0</text>
<line x1="128.83" y1="245.16" x2="128.82" y2="246.56" stroke="#222" stroke-width="0.6"/>
<line x1="133.71" y1="245.2" x2="133.7" y2="246.1" stroke="#444" stroke-width="0.5"/>
<line x1="136.56" y1="245.22" x2="136.55" y2="246.12" stroke="#444" stroke-width="0.5"/>
<line x1="138.58" y1="245.23" x2="138.58" y2="246.13" stroke="#444" stroke-width="0.5"/>
<line x1="140.15" y1="245.25" x2="140.15" y2="246.15" stroke="#444" stroke-width="0.5"/>
<line x1="141.44" y1="245.25" x2="141.43" y2="246.15" stroke="#444" stroke-width="0.5"/>
<line x1="142.52" y1="245.26" x2="142.51" y2="246.16" stroke="#444" stroke-width="0.5"/>
<line x1="143.46" y1="245.27" x2="143.45" y2="246.17" stroke="#444" stroke-width="0.5"/>
<line x1="144.29" y1="245.27" x2="144.28" y2="246.17" stroke="#444" stroke-width="0.5"/>
<text x="146.28" y="252.49" font-size="5.0" textLength="3.9" lengthAdjust="spacingAndGlyphs" text-anchor="end" stroke="#000" stroke-width="0.25">10</text>
<text x="146.7" y="249.89" font-size="3.4" stroke="#000" stroke-width="0.2">1</text>
<line x1="145.03" y1="245.28" x2="145.02" y2="246.68" stroke="#222" stroke-width="0.6"/>
<line x1="149.91" y1="245.31" x2="149.9" y2="246.21" stroke="#444" stroke-width="0.5"/>
<line x1="152.76" y1="245.34" x2="152.75" y2="246.24" stroke="#444" stroke-width="0.5"/>
<line x1="154.78" y1="245.35" x2="154.78" y2="246.25" stroke="#444" stroke-width="0.5"/>
<line x1="156.35" y1="245.36" x2="156.35" y2="246.26" stroke="#444" stroke-width="0.5"/>
<line x1="157.64" y1="245.37" x2="157.63" y2="246.27" stroke="#444" stroke-width="0.5"/>
<line x1="158.72" y1="245.38" x2="158.71" y2="246.28" stroke="#444" stroke-width="0.5"/>
<line x1="159.66" y1="245.38" x2="159.65" y2="246.28" stroke="#444" stroke-width="0.5"/>
<line x1="160.49" y1="245.39" x2="160.48" y2="246.29" stroke="#444" stroke-width="0.5"/>
<text x="162.48" y="252.61" font-size="5.0" textLength="3.9" lengthAdjust="spacingAndGlyphs" text-anchor="end" stroke="#000" stroke-width="0.25">10</text>
<text x="162.9" y="250.01" font-size="3.4" stroke="#000" stroke-width="0.2">2</text>
<line x1="161.23" y1="245.4" x2="161.22" y2="246.8" stroke="#222" stroke-width="0.6"/>
<line x1="166.11" y1="245.43" x2="166.1" y2="246.33" stroke="#444" stroke-width="0.5"/>
<line x1="168.96" y1="245.45" x2="168.95" y2="246.35" stroke="#444" stroke-width="0.5"/>
<line x1="170.98" y1="245.47" x2="170.98" y2="246.37" stroke="#444" stroke-width="0.5"/>
<line x1="172.55" y1="245.48" x2="172.55" y2="246.38" stroke="#444" stroke-width="0.5"/>
<line x1="173.83" y1="245.49" x2="173.83" y2="246.39" stroke="#444" stroke-width="0.5"/>
<line x1="174.92" y1="245.49" x2="174.91" y2="246.39" stroke="#444" stroke-width="0.5"/>
<line x1="175.86" y1="245.5" x2="175.85" y2="246.4" stroke="#444" stroke-width="0.5"/>
<line x1="176.69" y1="245.51" x2="176.68" y2="246.41" stroke="#444" stroke-width="0.5"/>
<text x="178.68" y="252.72" font-size="5.0" textLength="3.9" lengthAdjust="spacingAndGlyphs" text-anchor="end" stroke="#000" stroke-width="0.25">10</text>
<text x="179.1" y="250.12" font-size="3.4" stroke="#000" stroke-width="0.2">3</text>
<line x1="177.43" y1="245.51" x2="177.42" y2="246.91" stroke="#222" stroke-width="0.6"/>
<line x1="182.31" y1="245.55" x2="182.3" y2="246.45" stroke="#444" stroke-width="0.5"/>
<line x1="185.16" y1="245.57" x2="185.15" y2="246.47" stroke="#444" stroke-width="0.5"/>
<line x1="187.18" y1="245.58" x2="187.18" y2="246.48" stroke="#444" stroke-width="0.5"/>
<line x1="188.75" y1="245.59" x2="188.75" y2="246.49" stroke="#444" stroke-width="0.5"/>
<line x1="190.03" y1="245.6" x2="190.03" y2="246.5" stroke="#444" stroke-width="0.5"/>
<line x1="191.12" y1="245.61" x2="191.11" y2="246.51" stroke="#444" stroke-width="0.5"/>
<line x1="192.06" y1="245.62" x2="192.05" y2="246.52" stroke="#444" stroke-width="0.5"/>
<line x1="192.89" y1="245.62" x2="192.88" y2="246.52" stroke="#444" stroke-width="0.5"/>
<polygon points="214.23,244.98 242.23,245.08 245.54,244.8 247.74,243.71 249.75,242.43 251.47,240.34 252.5,235.95 252.78,224.95 253.15,214.95 253.68,210.96 254.18,210.36 254.68,210.96 255.15,214.97 255.38,224.97 255.82,232.97 256.3,235.73 256.92,232.98 257.38,224.98 257.96,212.99 258.61,205.99 259.33,203.8 260.01,206 260.65,215.01 261.13,225.01 261.51,235.01 261.88,238.27 262.4,236.02 262.73,232.02 263.34,230.93 263.84,230.78 264.43,231.53 264.81,234.04 265.28,239.04 265.57,240.44 268.05,242.56 269.74,244.07 271.43,244.98 275.23,245.31 279.63,245.44 279.63,245.84 214.23,245.38" fill="#000" stroke="none" stroke-width="0"/>
<line x1="214.57" y1="170.28" x2="280.37" y2="170.75" stroke="#333" stroke-width="0.85"/>
<line x1="214.77" y1="170.28" x2="214.23" y2="245.38" stroke="#222" stroke-width="0.95"/>
<line x1="280.17" y1="170.75" x2="279.63" y2="245.84" stroke="#222" stroke-width="0.95"/>
<line x1="213.93" y1="245.22" x2="279.93" y2="245.7" stroke="#000" stroke-width="1.3"/>
<text x="218.59" y="181.2" font-size="6.7" textLength="22.56" lengthAdjust="spacingAndGlyphs" stroke="#000" stroke-width="0.1">2n=42%</text>
<text x="218.54" y="188.2" font-size="6.7" textLength="22.56" lengthAdjust="spacingAndGlyphs" stroke="#000" stroke-width="0.1">4n=44%</text>
<text x="218.48" y="195.9" font-size="6.7" textLength="25.9" lengthAdjust="spacingAndGlyphs" stroke="#000" stroke-width="0.1">≥8n=14%</text>
<text x="215.48" y="252.58" font-size="5.0" textLength="3.9" lengthAdjust="spacingAndGlyphs" text-anchor="end" stroke="#000" stroke-width="0.25">10</text>
<text x="215.9" y="249.99" font-size="3.4" stroke="#000" stroke-width="0.2">0</text>
<line x1="214.23" y1="245.38" x2="214.22" y2="246.78" stroke="#222" stroke-width="0.6"/>
<line x1="219.11" y1="245.41" x2="219.1" y2="246.31" stroke="#444" stroke-width="0.5"/>
<line x1="221.96" y1="245.43" x2="221.95" y2="246.33" stroke="#444" stroke-width="0.5"/>
<line x1="223.98" y1="245.45" x2="223.98" y2="246.35" stroke="#444" stroke-width="0.5"/>
<line x1="225.55" y1="245.46" x2="225.55" y2="246.36" stroke="#444" stroke-width="0.5"/>
<line x1="226.84" y1="245.47" x2="226.83" y2="246.37" stroke="#444" stroke-width="0.5"/>
<line x1="227.92" y1="245.47" x2="227.91" y2="246.37" stroke="#444" stroke-width="0.5"/>
<line x1="228.86" y1="245.48" x2="228.85" y2="246.38" stroke="#444" stroke-width="0.5"/>
<line x1="229.69" y1="245.49" x2="229.68" y2="246.39" stroke="#444" stroke-width="0.5"/>
<text x="231.68" y="252.7" font-size="5.0" textLength="3.9" lengthAdjust="spacingAndGlyphs" text-anchor="end" stroke="#000" stroke-width="0.25">10</text>
<text x="232.1" y="250.1" font-size="3.4" stroke="#000" stroke-width="0.2">1</text>
<line x1="230.43" y1="245.49" x2="230.42" y2="246.89" stroke="#222" stroke-width="0.6"/>
<line x1="235.31" y1="245.53" x2="235.3" y2="246.43" stroke="#444" stroke-width="0.5"/>
<line x1="238.16" y1="245.55" x2="238.15" y2="246.45" stroke="#444" stroke-width="0.5"/>
<line x1="240.18" y1="245.56" x2="240.18" y2="246.46" stroke="#444" stroke-width="0.5"/>
<line x1="241.75" y1="245.57" x2="241.75" y2="246.47" stroke="#444" stroke-width="0.5"/>
<line x1="243.04" y1="245.58" x2="243.03" y2="246.48" stroke="#444" stroke-width="0.5"/>
<line x1="244.12" y1="245.59" x2="244.11" y2="246.49" stroke="#444" stroke-width="0.5"/>
<line x1="245.06" y1="245.6" x2="245.05" y2="246.5" stroke="#444" stroke-width="0.5"/>
<line x1="245.89" y1="245.6" x2="245.88" y2="246.5" stroke="#444" stroke-width="0.5"/>
<text x="247.88" y="252.82" font-size="5.0" textLength="3.9" lengthAdjust="spacingAndGlyphs" text-anchor="end" stroke="#000" stroke-width="0.25">10</text>
<text x="248.3" y="250.22" font-size="3.4" stroke="#000" stroke-width="0.2">2</text>
<line x1="246.63" y1="245.61" x2="246.62" y2="247.01" stroke="#222" stroke-width="0.6"/>
<line x1="251.51" y1="245.64" x2="251.5" y2="246.54" stroke="#444" stroke-width="0.5"/>
<line x1="254.36" y1="245.66" x2="254.35" y2="246.56" stroke="#444" stroke-width="0.5"/>
<line x1="256.38" y1="245.68" x2="256.38" y2="246.58" stroke="#444" stroke-width="0.5"/>
<line x1="257.95" y1="245.69" x2="257.95" y2="246.59" stroke="#444" stroke-width="0.5"/>
<line x1="259.24" y1="245.7" x2="259.23" y2="246.6" stroke="#444" stroke-width="0.5"/>
<line x1="260.32" y1="245.71" x2="260.31" y2="246.61" stroke="#444" stroke-width="0.5"/>
<line x1="261.26" y1="245.71" x2="261.25" y2="246.61" stroke="#444" stroke-width="0.5"/>
<line x1="262.09" y1="245.72" x2="262.08" y2="246.62" stroke="#444" stroke-width="0.5"/>
<text x="264.08" y="252.93" font-size="5.0" textLength="3.9" lengthAdjust="spacingAndGlyphs" text-anchor="end" stroke="#000" stroke-width="0.25">10</text>
<text x="264.5" y="250.34" font-size="3.4" stroke="#000" stroke-width="0.2">3</text>
<line x1="262.83" y1="245.72" x2="262.82" y2="247.12" stroke="#222" stroke-width="0.6"/>
<line x1="267.71" y1="245.76" x2="267.7" y2="246.66" stroke="#444" stroke-width="0.5"/>
<line x1="270.56" y1="245.78" x2="270.55" y2="246.68" stroke="#444" stroke-width="0.5"/>
<line x1="272.58" y1="245.79" x2="272.58" y2="246.69" stroke="#444" stroke-width="0.5"/>
<line x1="274.15" y1="245.8" x2="274.15" y2="246.7" stroke="#444" stroke-width="0.5"/>
<line x1="275.43" y1="245.81" x2="275.43" y2="246.71" stroke="#444" stroke-width="0.5"/>
<line x1="276.52" y1="245.82" x2="276.51" y2="246.72" stroke="#444" stroke-width="0.5"/>
<line x1="277.46" y1="245.83" x2="277.45" y2="246.73" stroke="#444" stroke-width="0.5"/>
<line x1="278.29" y1="245.83" x2="278.28" y2="246.73" stroke="#444" stroke-width="0.5"/>
<polygon points="288.84,244.91 317.24,244.91 320.49,244.14 322.75,243.45 324.26,241.46 324.44,230.46 324.61,220.46 324.47,211.96 324.92,205.47 325.23,190.47 325.51,178.47 325.83,176.47 326.33,176.58 326.66,185.48 326.85,200.48 326.98,210.48 327.13,217.48 327.31,220.73 328.03,217.49 328.85,214.79 329.45,214.5 330.05,215.5 330.63,218.51 331.38,225.51 331.43,232.51 331.46,241.01 333.25,242.53 337.54,244.16 341.24,244.88 353.83,245.37 353.83,245.67 288.83,245.21" fill="#000" stroke="none" stroke-width="0"/>
<line x1="289.17" y1="170.81" x2="354.56" y2="171.28" stroke="#333" stroke-width="0.85"/>
<line x1="289.37" y1="170.81" x2="288.83" y2="245.21" stroke="#222" stroke-width="0.95"/>
<line x1="354.36" y1="171.28" x2="353.83" y2="245.67" stroke="#222" stroke-width="0.95"/>
<line x1="288.53" y1="245.06" x2="354.13" y2="245.53" stroke="#000" stroke-width="1.3"/>
<text x="292.29" y="181.23" font-size="6.7" textLength="22.56" lengthAdjust="spacingAndGlyphs" stroke="#000" stroke-width="0.1">2n=66%</text>
<text x="292.24" y="188.23" font-size="6.7" textLength="22.56" lengthAdjust="spacingAndGlyphs" stroke="#000" stroke-width="0.1">4n=33%</text>
<text x="292.19" y="195.13" font-size="6.7" textLength="27.6" lengthAdjust="spacingAndGlyphs" stroke="#000" stroke-width="0.1">≥8n=0.7%</text>
<text x="290.08" y="252.42" font-size="5.0" textLength="3.9" lengthAdjust="spacingAndGlyphs" text-anchor="end" stroke="#000" stroke-width="0.25">10</text>
<text x="290.5" y="249.82" font-size="3.4" stroke="#000" stroke-width="0.2">0</text>
<line x1="288.83" y1="245.21" x2="288.82" y2="246.61" stroke="#222" stroke-width="0.6"/>
<line x1="293.71" y1="245.24" x2="293.7" y2="246.14" stroke="#444" stroke-width="0.5"/>
<line x1="296.56" y1="245.26" x2="296.56" y2="246.16" stroke="#444" stroke-width="0.5"/>
<line x1="298.59" y1="245.28" x2="298.58" y2="246.18" stroke="#444" stroke-width="0.5"/>
<line x1="300.16" y1="245.29" x2="300.15" y2="246.19" stroke="#444" stroke-width="0.5"/>
<line x1="301.44" y1="245.3" x2="301.43" y2="246.2" stroke="#444" stroke-width="0.5"/>
<line x1="302.52" y1="245.31" x2="302.52" y2="246.21" stroke="#444" stroke-width="0.5"/>
<line x1="303.46" y1="245.31" x2="303.46" y2="246.21" stroke="#444" stroke-width="0.5"/>
<line x1="304.29" y1="245.32" x2="304.29" y2="246.22" stroke="#444" stroke-width="0.5"/>
<text x="306.28" y="252.53" font-size="5.0" textLength="3.9" lengthAdjust="spacingAndGlyphs" text-anchor="end" stroke="#000" stroke-width="0.25">10</text>
<text x="306.7" y="249.94" font-size="3.4" stroke="#000" stroke-width="0.2">1</text>
<line x1="305.03" y1="245.32" x2="305.02" y2="246.72" stroke="#222" stroke-width="0.6"/>
<line x1="309.91" y1="245.36" x2="309.9" y2="246.26" stroke="#444" stroke-width="0.5"/>
<line x1="312.76" y1="245.38" x2="312.76" y2="246.28" stroke="#444" stroke-width="0.5"/>
<line x1="314.79" y1="245.39" x2="314.78" y2="246.29" stroke="#444" stroke-width="0.5"/>
<line x1="316.36" y1="245.41" x2="316.35" y2="246.31" stroke="#444" stroke-width="0.5"/>
<line x1="317.64" y1="245.42" x2="317.63" y2="246.32" stroke="#444" stroke-width="0.5"/>
<line x1="318.72" y1="245.42" x2="318.72" y2="246.32" stroke="#444" stroke-width="0.5"/>
<line x1="319.66" y1="245.43" x2="319.66" y2="246.33" stroke="#444" stroke-width="0.5"/>
<line x1="320.49" y1="245.44" x2="320.49" y2="246.34" stroke="#444" stroke-width="0.5"/>
<text x="322.48" y="252.65" font-size="5.0" textLength="3.9" lengthAdjust="spacingAndGlyphs" text-anchor="end" stroke="#000" stroke-width="0.25">10</text>
<text x="322.9" y="250.05" font-size="3.4" stroke="#000" stroke-width="0.2">2</text>
<line x1="321.23" y1="245.44" x2="321.22" y2="246.84" stroke="#222" stroke-width="0.6"/>
<line x1="326.11" y1="245.48" x2="326.1" y2="246.38" stroke="#444" stroke-width="0.5"/>
<line x1="328.96" y1="245.5" x2="328.96" y2="246.4" stroke="#444" stroke-width="0.5"/>
<line x1="330.99" y1="245.51" x2="330.98" y2="246.41" stroke="#444" stroke-width="0.5"/>
<line x1="332.56" y1="245.52" x2="332.55" y2="246.42" stroke="#444" stroke-width="0.5"/>
<line x1="333.84" y1="245.53" x2="333.83" y2="246.43" stroke="#444" stroke-width="0.5"/>
<line x1="334.92" y1="245.54" x2="334.92" y2="246.44" stroke="#444" stroke-width="0.5"/>
<line x1="335.86" y1="245.55" x2="335.86" y2="246.45" stroke="#444" stroke-width="0.5"/>
<line x1="336.69" y1="245.55" x2="336.68" y2="246.45" stroke="#444" stroke-width="0.5"/>
<text x="338.68" y="252.77" font-size="5.0" textLength="3.9" lengthAdjust="spacingAndGlyphs" text-anchor="end" stroke="#000" stroke-width="0.25">10</text>
<text x="339.1" y="250.17" font-size="3.4" stroke="#000" stroke-width="0.2">3</text>
<line x1="337.43" y1="245.56" x2="337.42" y2="246.96" stroke="#222" stroke-width="0.6"/>
<line x1="342.31" y1="245.59" x2="342.3" y2="246.49" stroke="#444" stroke-width="0.5"/>
<line x1="345.16" y1="245.61" x2="345.16" y2="246.51" stroke="#444" stroke-width="0.5"/>
<line x1="347.19" y1="245.63" x2="347.18" y2="246.53" stroke="#444" stroke-width="0.5"/>
<line x1="348.76" y1="245.64" x2="348.75" y2="246.54" stroke="#444" stroke-width="0.5"/>
<line x1="350.04" y1="245.65" x2="350.03" y2="246.55" stroke="#444" stroke-width="0.5"/>
<line x1="351.12" y1="245.65" x2="351.12" y2="246.55" stroke="#444" stroke-width="0.5"/>
<line x1="352.06" y1="245.66" x2="352.06" y2="246.56" stroke="#444" stroke-width="0.5"/>
<line x1="352.89" y1="245.67" x2="352.88" y2="246.57" stroke="#444" stroke-width="0.5"/>
<polygon points="373.83,246.09 403.23,246.08 406.34,245.34 408.74,244.6 411.25,243.75 411.44,231.09 411.65,216.09 411.95,201.09 412.36,186.09 412.63,176.09 412.75,172.99 413.75,173 414,181.1 414.19,196.1 414.38,211.11 414.47,226.11 414.84,231.11 415.62,233.12 416.24,231.12 416.97,227.13 417.98,224.83 418.67,226.14 419.14,231.14 419.29,237.14 419.35,243.81 421.24,244.69 424.23,245.58 429.23,246.27 437.63,246.55 438.13,246.88 373.83,246.42" fill="#000" stroke="none" stroke-width="0"/>
<line x1="374.16" y1="172.52" x2="438.85" y2="172.98" stroke="#333" stroke-width="0.85"/>
<line x1="374.36" y1="172.52" x2="373.83" y2="246.42" stroke="#222" stroke-width="0.95"/>
<line x1="438.65" y1="172.98" x2="438.13" y2="246.88" stroke="#222" stroke-width="0.95"/>
<line x1="373.53" y1="246.27" x2="438.43" y2="246.73" stroke="#000" stroke-width="1.3"/>
<text x="378.89" y="181.55" font-size="6.7" textLength="22.56" lengthAdjust="spacingAndGlyphs" stroke="#000" stroke-width="0.1">2n=75%</text>
<text x="378.84" y="188.55" font-size="6.7" textLength="22.56" lengthAdjust="spacingAndGlyphs" stroke="#000" stroke-width="0.1">4n=23%</text>
<text x="378.79" y="195.55" font-size="6.7" textLength="22.51" lengthAdjust="spacingAndGlyphs" stroke="#000" stroke-width="0.1">≥8n=2%</text>
<text x="375.08" y="253.63" font-size="5.0" textLength="3.9" lengthAdjust="spacingAndGlyphs" text-anchor="end" stroke="#000" stroke-width="0.25">10</text>
<text x="375.49" y="251.03" font-size="3.4" stroke="#000" stroke-width="0.2">0</text>
<line x1="373.83" y1="246.42" x2="373.82" y2="247.82" stroke="#222" stroke-width="0.6"/>
<line x1="378.7" y1="246.45" x2="378.7" y2="247.35" stroke="#444" stroke-width="0.5"/>
<line x1="381.56" y1="246.47" x2="381.55" y2="247.37" stroke="#444" stroke-width="0.5"/>
<line x1="383.58" y1="246.49" x2="383.57" y2="247.39" stroke="#444" stroke-width="0.5"/>
<line x1="385.15" y1="246.5" x2="385.14" y2="247.4" stroke="#444" stroke-width="0.5"/>
<line x1="386.43" y1="246.51" x2="386.43" y2="247.41" stroke="#444" stroke-width="0.5"/>
<line x1="387.52" y1="246.52" x2="387.51" y2="247.42" stroke="#444" stroke-width="0.5"/>
<line x1="388.46" y1="246.52" x2="388.45" y2="247.42" stroke="#444" stroke-width="0.5"/>
<line x1="389.29" y1="246.53" x2="389.28" y2="247.43" stroke="#444" stroke-width="0.5"/>
<text x="391.28" y="253.74" font-size="5.0" textLength="3.9" lengthAdjust="spacingAndGlyphs" text-anchor="end" stroke="#000" stroke-width="0.25">10</text>
<text x="391.69" y="251.15" font-size="3.4" stroke="#000" stroke-width="0.2">1</text>
<line x1="390.03" y1="246.53" x2="390.02" y2="247.93" stroke="#222" stroke-width="0.6"/>
<line x1="394.9" y1="246.57" x2="394.9" y2="247.47" stroke="#444" stroke-width="0.5"/>
<line x1="397.76" y1="246.59" x2="397.75" y2="247.49" stroke="#444" stroke-width="0.5"/>
<line x1="399.78" y1="246.6" x2="399.77" y2="247.5" stroke="#444" stroke-width="0.5"/>
<line x1="401.35" y1="246.61" x2="401.34" y2="247.51" stroke="#444" stroke-width="0.5"/>
<line x1="402.63" y1="246.62" x2="402.63" y2="247.52" stroke="#444" stroke-width="0.5"/>
<line x1="403.72" y1="246.63" x2="403.71" y2="247.53" stroke="#444" stroke-width="0.5"/>
<line x1="404.66" y1="246.64" x2="404.65" y2="247.54" stroke="#444" stroke-width="0.5"/>
<line x1="405.49" y1="246.64" x2="405.48" y2="247.54" stroke="#444" stroke-width="0.5"/>
<text x="407.47" y="253.86" font-size="5.0" textLength="3.9" lengthAdjust="spacingAndGlyphs" text-anchor="end" stroke="#000" stroke-width="0.25">10</text>
<text x="407.89" y="251.26" font-size="3.4" stroke="#000" stroke-width="0.2">2</text>
<line x1="406.23" y1="246.65" x2="406.22" y2="248.05" stroke="#222" stroke-width="0.6"/>
<line x1="411.1" y1="246.68" x2="411.1" y2="247.58" stroke="#444" stroke-width="0.5"/>
<line x1="413.96" y1="246.7" x2="413.95" y2="247.6" stroke="#444" stroke-width="0.5"/>
<line x1="415.98" y1="246.72" x2="415.97" y2="247.62" stroke="#444" stroke-width="0.5"/>
<line x1="417.55" y1="246.73" x2="417.54" y2="247.63" stroke="#444" stroke-width="0.5"/>
<line x1="418.83" y1="246.74" x2="418.83" y2="247.64" stroke="#444" stroke-width="0.5"/>
<line x1="419.92" y1="246.75" x2="419.91" y2="247.65" stroke="#444" stroke-width="0.5"/>
<line x1="420.86" y1="246.75" x2="420.85" y2="247.65" stroke="#444" stroke-width="0.5"/>
<line x1="421.68" y1="246.76" x2="421.68" y2="247.66" stroke="#444" stroke-width="0.5"/>
<text x="423.67" y="253.97" font-size="5.0" textLength="3.9" lengthAdjust="spacingAndGlyphs" text-anchor="end" stroke="#000" stroke-width="0.25">10</text>
<text x="424.09" y="251.38" font-size="3.4" stroke="#000" stroke-width="0.2">3</text>
<line x1="422.43" y1="246.77" x2="422.42" y2="248.17" stroke="#222" stroke-width="0.6"/>
<line x1="427.3" y1="246.8" x2="427.3" y2="247.7" stroke="#444" stroke-width="0.5"/>
<line x1="430.16" y1="246.82" x2="430.15" y2="247.72" stroke="#444" stroke-width="0.5"/>
<line x1="432.18" y1="246.83" x2="432.17" y2="247.73" stroke="#444" stroke-width="0.5"/>
<line x1="433.75" y1="246.85" x2="433.74" y2="247.75" stroke="#444" stroke-width="0.5"/>
<line x1="435.03" y1="246.86" x2="435.03" y2="247.76" stroke="#444" stroke-width="0.5"/>
<line x1="436.12" y1="246.86" x2="436.11" y2="247.76" stroke="#444" stroke-width="0.5"/>
<line x1="437.06" y1="246.87" x2="437.05" y2="247.77" stroke="#444" stroke-width="0.5"/>
<line x1="437.88" y1="246.88" x2="437.88" y2="247.78" stroke="#444" stroke-width="0.5"/>
<polygon points="452.13,246.15 480.23,246.13 482.74,245.49 483.45,243.4 485.26,242.75 489.06,242.34 489.24,231.64 489.44,216.64 489.79,196.65 490.09,181.65 490.16,171.75 491.36,171.76 491.39,181.66 491.49,196.66 491.68,211.66 492.01,221.66 492.56,227.67 493.24,230.47 493.96,227.68 494.59,224.68 495.19,223.89 495.88,225.19 496.36,228.69 496.71,235.7 496.76,242.51 498.75,243.07 501.25,243.75 503.44,244.64 505.23,245.87 508.23,246.33 517.03,246.61 517.03,246.94 452.13,246.48" fill="#000" stroke="none" stroke-width="0"/>
<line x1="452.47" y1="171.28" x2="517.77" y2="171.75" stroke="#333" stroke-width="0.85"/>
<line x1="452.67" y1="171.28" x2="452.13" y2="246.48" stroke="#222" stroke-width="0.95"/>
<line x1="517.57" y1="171.74" x2="517.03" y2="246.94" stroke="#222" stroke-width="0.95"/>
<line x1="451.83" y1="246.33" x2="517.33" y2="246.79" stroke="#000" stroke-width="1.3"/>
<text x="455.89" y="181.4" font-size="6.7" textLength="22.56" lengthAdjust="spacingAndGlyphs" stroke="#000" stroke-width="0.1">2n=78%</text>
<text x="455.85" y="188.3" font-size="6.7" textLength="22.56" lengthAdjust="spacingAndGlyphs" stroke="#000" stroke-width="0.1">4n=21%</text>
<text x="455.79" y="195.5" font-size="6.7" textLength="22.51" lengthAdjust="spacingAndGlyphs" stroke="#000" stroke-width="0.1">≥8n=1%</text>
<text x="453.38" y="253.69" font-size="5.0" textLength="3.9" lengthAdjust="spacingAndGlyphs" text-anchor="end" stroke="#000" stroke-width="0.25">10</text>
<text x="453.8" y="251.09" font-size="3.4" stroke="#000" stroke-width="0.2">0</text>
<line x1="452.13" y1="246.48" x2="452.12" y2="247.88" stroke="#222" stroke-width="0.6"/>
<line x1="457.01" y1="246.51" x2="457" y2="247.41" stroke="#444" stroke-width="0.5"/>
<line x1="459.86" y1="246.53" x2="459.85" y2="247.43" stroke="#444" stroke-width="0.5"/>
<line x1="461.88" y1="246.55" x2="461.88" y2="247.45" stroke="#444" stroke-width="0.5"/>
<line x1="463.45" y1="246.56" x2="463.45" y2="247.46" stroke="#444" stroke-width="0.5"/>
<line x1="464.73" y1="246.57" x2="464.73" y2="247.47" stroke="#444" stroke-width="0.5"/>
<line x1="465.82" y1="246.58" x2="465.81" y2="247.48" stroke="#444" stroke-width="0.5"/>
<line x1="466.76" y1="246.58" x2="466.75" y2="247.48" stroke="#444" stroke-width="0.5"/>
<line x1="467.59" y1="246.59" x2="467.58" y2="247.49" stroke="#444" stroke-width="0.5"/>
<text x="469.58" y="253.8" font-size="5.0" textLength="3.9" lengthAdjust="spacingAndGlyphs" text-anchor="end" stroke="#000" stroke-width="0.25">10</text>
<text x="470" y="251.21" font-size="3.4" stroke="#000" stroke-width="0.2">1</text>
<line x1="468.33" y1="246.59" x2="468.32" y2="247.99" stroke="#222" stroke-width="0.6"/>
<line x1="473.2" y1="246.63" x2="473.2" y2="247.53" stroke="#444" stroke-width="0.5"/>
<line x1="476.06" y1="246.65" x2="476.05" y2="247.55" stroke="#444" stroke-width="0.5"/>
<line x1="478.08" y1="246.66" x2="478.07" y2="247.56" stroke="#444" stroke-width="0.5"/>
<line x1="479.65" y1="246.67" x2="479.64" y2="247.57" stroke="#444" stroke-width="0.5"/>
<line x1="480.93" y1="246.68" x2="480.93" y2="247.58" stroke="#444" stroke-width="0.5"/>
<line x1="482.02" y1="246.69" x2="482.01" y2="247.59" stroke="#444" stroke-width="0.5"/>
<line x1="482.96" y1="246.7" x2="482.95" y2="247.6" stroke="#444" stroke-width="0.5"/>
<line x1="483.79" y1="246.7" x2="483.78" y2="247.6" stroke="#444" stroke-width="0.5"/>
<text x="485.78" y="253.92" font-size="5.0" textLength="3.9" lengthAdjust="spacingAndGlyphs" text-anchor="end" stroke="#000" stroke-width="0.25">10</text>
<text x="486.19" y="251.32" font-size="3.4" stroke="#000" stroke-width="0.2">2</text>
<line x1="484.53" y1="246.71" x2="484.52" y2="248.11" stroke="#222" stroke-width="0.6"/>
<line x1="489.4" y1="246.74" x2="489.4" y2="247.64" stroke="#444" stroke-width="0.5"/>
<line x1="492.26" y1="246.76" x2="492.25" y2="247.66" stroke="#444" stroke-width="0.5"/>
<line x1="494.28" y1="246.78" x2="494.27" y2="247.68" stroke="#444" stroke-width="0.5"/>
<line x1="495.85" y1="246.79" x2="495.84" y2="247.69" stroke="#444" stroke-width="0.5"/>
<line x1="497.13" y1="246.8" x2="497.13" y2="247.7" stroke="#444" stroke-width="0.5"/>
<line x1="498.22" y1="246.81" x2="498.21" y2="247.71" stroke="#444" stroke-width="0.5"/>
<line x1="499.16" y1="246.81" x2="499.15" y2="247.71" stroke="#444" stroke-width="0.5"/>
<line x1="499.99" y1="246.82" x2="499.98" y2="247.72" stroke="#444" stroke-width="0.5"/>
<text x="501.98" y="254.03" font-size="5.0" textLength="3.9" lengthAdjust="spacingAndGlyphs" text-anchor="end" stroke="#000" stroke-width="0.25">10</text>
<text x="502.39" y="251.44" font-size="3.4" stroke="#000" stroke-width="0.2">3</text>
<line x1="500.73" y1="246.83" x2="500.72" y2="248.23" stroke="#222" stroke-width="0.6"/>
<line x1="505.6" y1="246.86" x2="505.6" y2="247.76" stroke="#444" stroke-width="0.5"/>
<line x1="508.46" y1="246.88" x2="508.45" y2="247.78" stroke="#444" stroke-width="0.5"/>
<line x1="510.48" y1="246.9" x2="510.47" y2="247.8" stroke="#444" stroke-width="0.5"/>
<line x1="512.05" y1="246.91" x2="512.04" y2="247.81" stroke="#444" stroke-width="0.5"/>
<line x1="513.33" y1="246.92" x2="513.33" y2="247.82" stroke="#444" stroke-width="0.5"/>
<line x1="514.42" y1="246.92" x2="514.41" y2="247.82" stroke="#444" stroke-width="0.5"/>
<line x1="515.36" y1="246.93" x2="515.35" y2="247.83" stroke="#444" stroke-width="0.5"/>
<line x1="516.19" y1="246.94" x2="516.18" y2="247.84" stroke="#444" stroke-width="0.5"/>
<text x="51.43" y="244.41" font-size="4.9" font-weight="bold" text-anchor="middle" transform="rotate(-90 51.43 244.41)">0</text>
<line x1="53.03" y1="244.42" x2="54.83" y2="244.43" stroke="#222" stroke-width="0.6"/>
<text x="51.54" y="230.11" font-size="4.9" font-weight="bold" text-anchor="middle" transform="rotate(-90 51.54 230.11)">50</text>
<line x1="53.14" y1="230.12" x2="54.94" y2="230.13" stroke="#222" stroke-width="0.6"/>
<text x="51.64" y="215.81" font-size="4.9" font-weight="bold" text-anchor="middle" transform="rotate(-90 51.64 215.81)">100</text>
<line x1="53.24" y1="215.82" x2="55.04" y2="215.84" stroke="#222" stroke-width="0.6"/>
<text x="51.74" y="201.41" font-size="4.9" font-weight="bold" text-anchor="middle" transform="rotate(-90 51.74 201.41)">150</text>
<line x1="53.34" y1="201.42" x2="55.14" y2="201.44" stroke="#222" stroke-width="0.6"/>
<text x="51.84" y="187.01" font-size="4.9" font-weight="bold" text-anchor="middle" transform="rotate(-90 51.84 187.01)">200</text>
<line x1="53.44" y1="187.02" x2="55.24" y2="187.04" stroke="#222" stroke-width="0.6"/>
<text x="51.95" y="171.81" font-size="4.9" font-weight="bold" text-anchor="middle" transform="rotate(-90 51.95 171.81)">250</text>
<line x1="53.55" y1="171.82" x2="55.35" y2="171.84" stroke="#222" stroke-width="0.6"/>
<line x1="53.43" y1="244.42" x2="54.83" y2="244.43" stroke="#111" stroke-width="0.6"/>
<line x1="53.45" y1="241.54" x2="54.85" y2="241.55" stroke="#111" stroke-width="0.6"/>
<line x1="53.47" y1="238.66" x2="54.87" y2="238.67" stroke="#111" stroke-width="0.6"/>
<line x1="53.49" y1="235.78" x2="54.89" y2="235.79" stroke="#111" stroke-width="0.6"/>
<line x1="53.52" y1="232.9" x2="54.92" y2="232.91" stroke="#111" stroke-width="0.6"/>
<line x1="53.54" y1="230.02" x2="54.94" y2="230.03" stroke="#111" stroke-width="0.6"/>
<line x1="53.56" y1="227.15" x2="54.96" y2="227.16" stroke="#111" stroke-width="0.6"/>
<line x1="53.58" y1="224.27" x2="54.98" y2="224.28" stroke="#111" stroke-width="0.6"/>
<line x1="53.6" y1="221.39" x2="55" y2="221.4" stroke="#111" stroke-width="0.6"/>
<line x1="53.62" y1="218.51" x2="55.02" y2="218.52" stroke="#111" stroke-width="0.6"/>
<line x1="53.64" y1="215.63" x2="55.04" y2="215.64" stroke="#111" stroke-width="0.6"/>
<line x1="53.66" y1="212.75" x2="55.06" y2="212.76" stroke="#111" stroke-width="0.6"/>
<line x1="53.68" y1="209.87" x2="55.08" y2="209.88" stroke="#111" stroke-width="0.6"/>
<line x1="53.7" y1="206.99" x2="55.1" y2="207" stroke="#111" stroke-width="0.6"/>
<line x1="53.72" y1="204.11" x2="55.12" y2="204.12" stroke="#111" stroke-width="0.6"/>
<line x1="53.74" y1="201.23" x2="55.14" y2="201.24" stroke="#111" stroke-width="0.6"/>
<line x1="53.76" y1="198.35" x2="55.16" y2="198.36" stroke="#111" stroke-width="0.6"/>
<line x1="53.78" y1="195.47" x2="55.18" y2="195.48" stroke="#111" stroke-width="0.6"/>
<line x1="53.8" y1="192.59" x2="55.2" y2="192.6" stroke="#111" stroke-width="0.6"/>
<line x1="53.82" y1="189.71" x2="55.22" y2="189.72" stroke="#111" stroke-width="0.6"/>
<line x1="53.85" y1="186.83" x2="55.25" y2="186.84" stroke="#111" stroke-width="0.6"/>
<line x1="53.87" y1="183.95" x2="55.27" y2="183.96" stroke="#111" stroke-width="0.6"/>
<line x1="53.89" y1="181.07" x2="55.29" y2="181.08" stroke="#111" stroke-width="0.6"/>
<line x1="53.91" y1="178.19" x2="55.31" y2="178.2" stroke="#111" stroke-width="0.6"/>
<line x1="53.93" y1="175.31" x2="55.33" y2="175.32" stroke="#111" stroke-width="0.6"/>
<line x1="53.95" y1="172.43" x2="55.35" y2="172.44" stroke="#111" stroke-width="0.6"/>
</svg>
</body></html>
